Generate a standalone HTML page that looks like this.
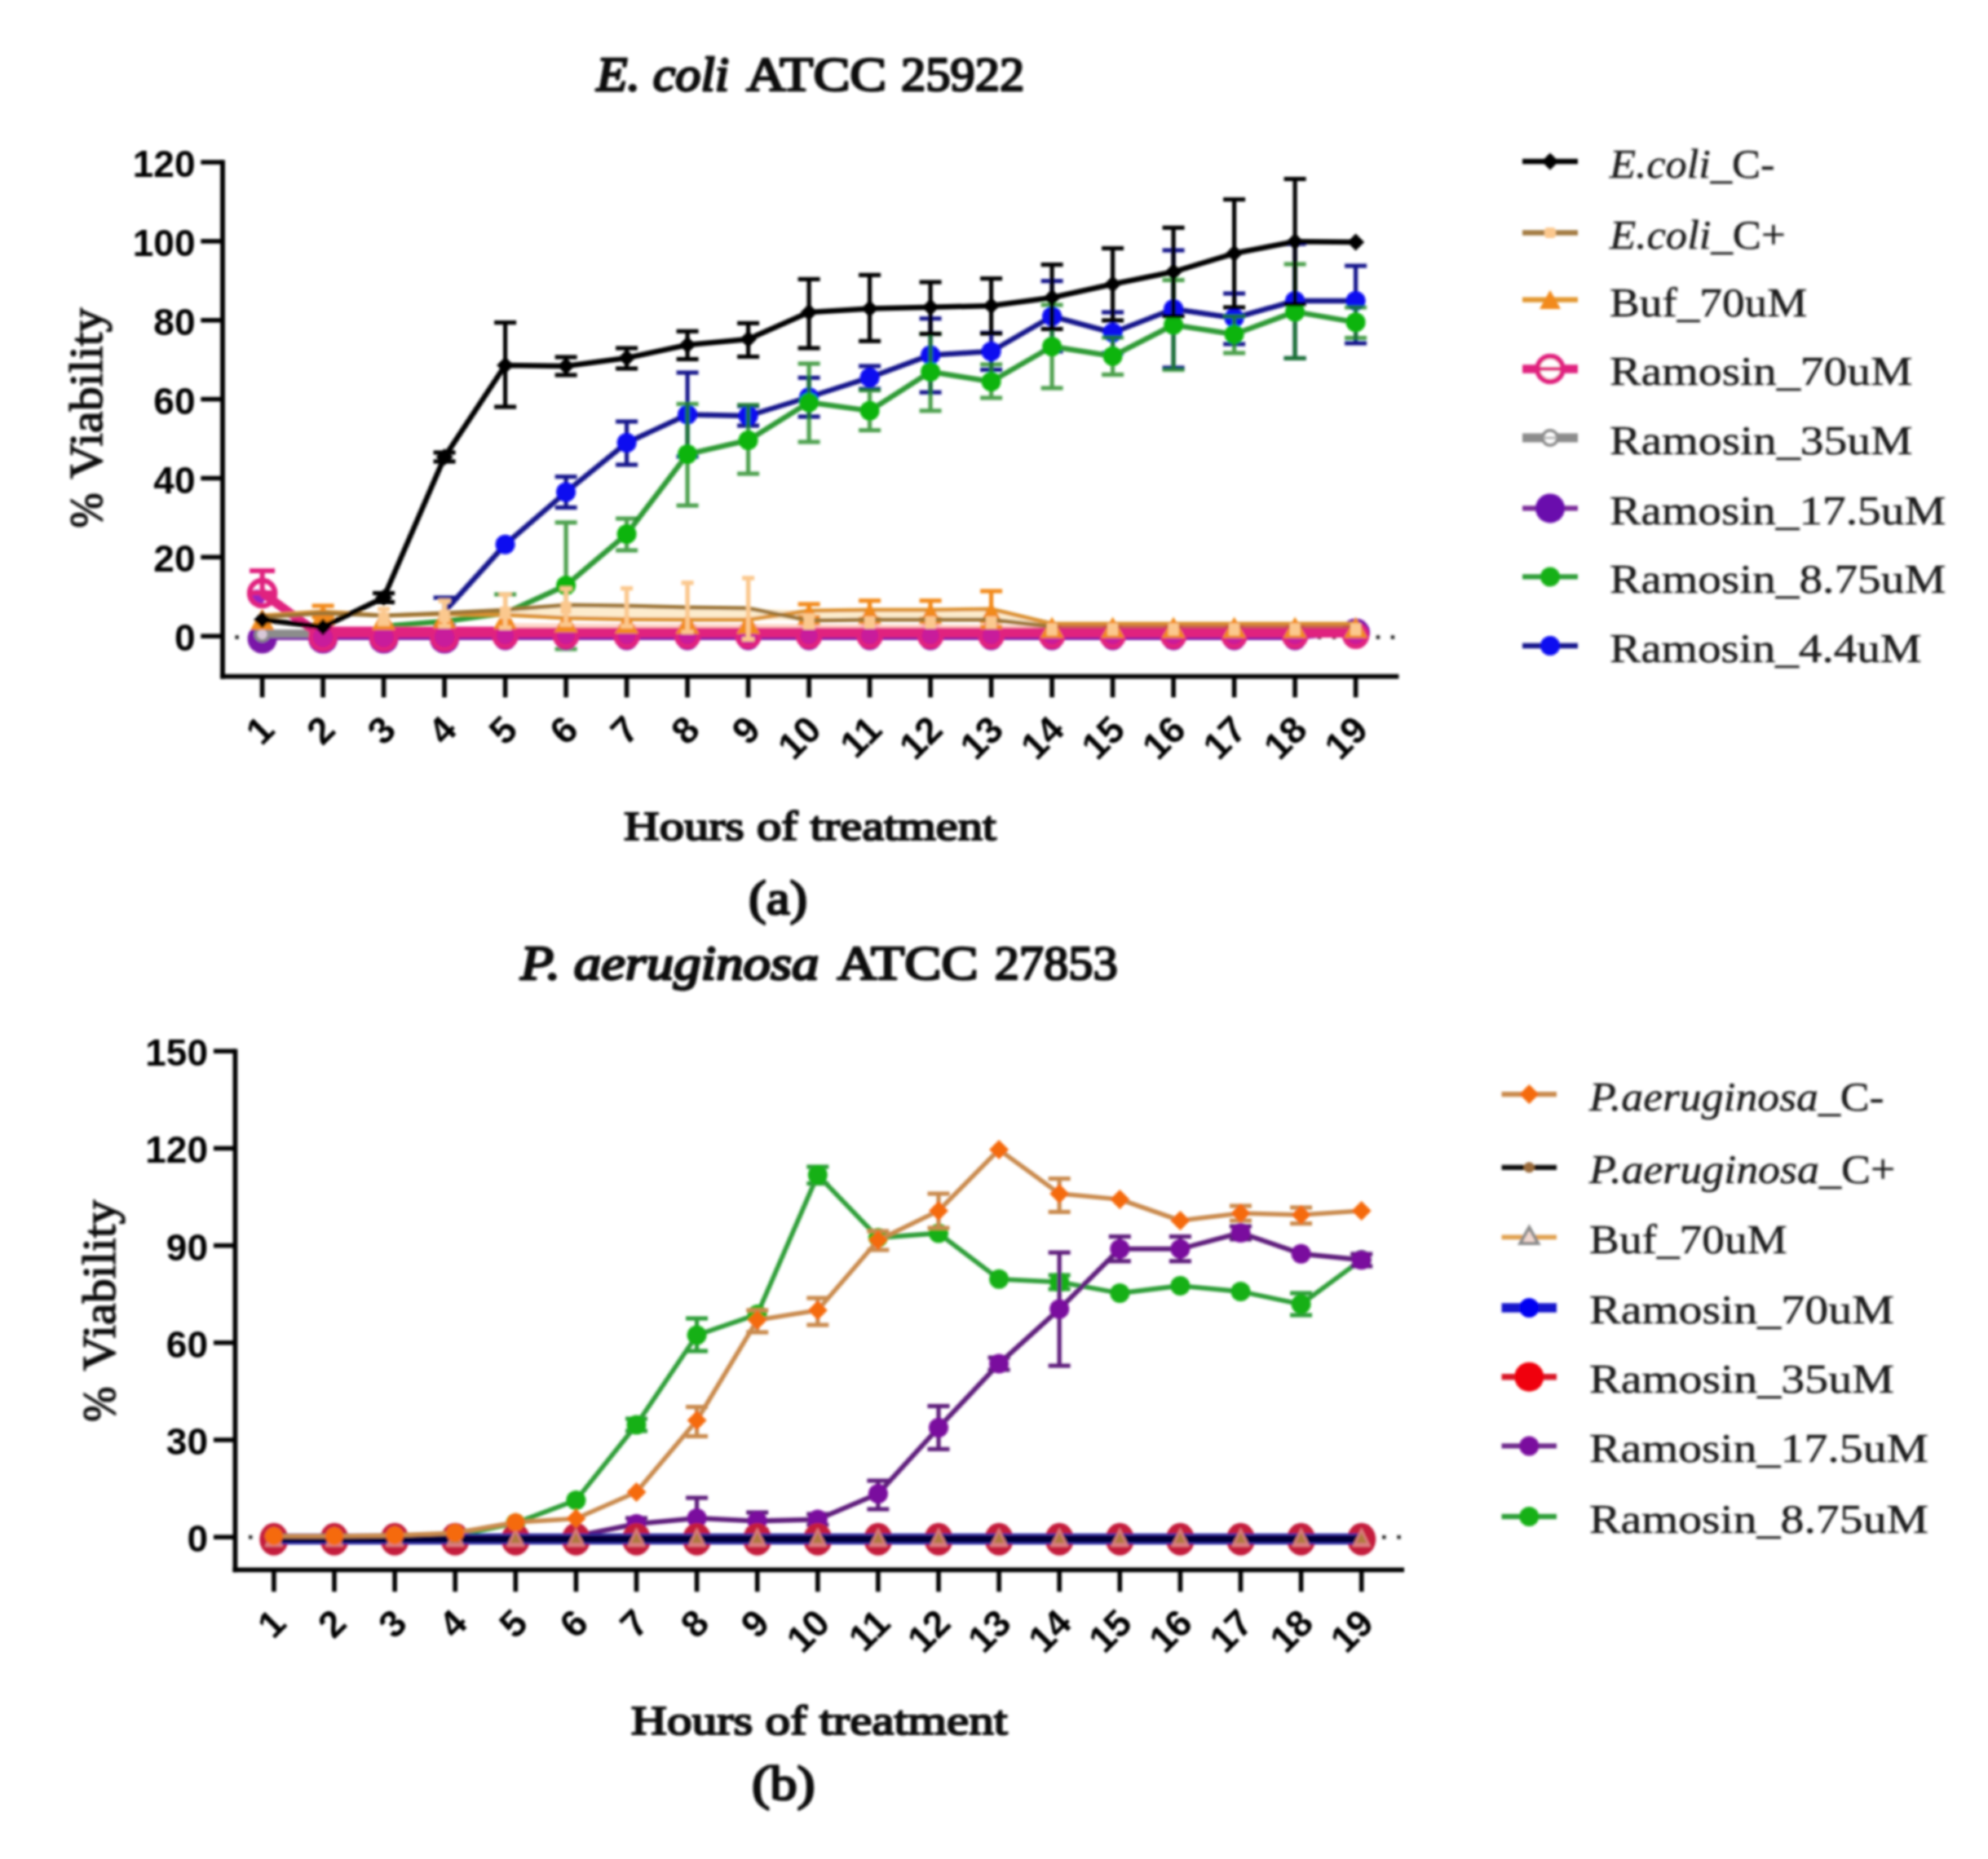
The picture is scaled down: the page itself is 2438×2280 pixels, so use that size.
<!DOCTYPE html>
<html lang="en"><head><meta charset="utf-8"><title>Ramosin viability figure</title>
<style>html,body{margin:0;padding:0;background:#fff}body{width:2438px;height:2280px;overflow:hidden}svg{display:block}</style>
</head><body>
<svg width="2438" height="2280" viewBox="0 0 2438 2280" role="img" aria-label="Viability curves of E. coli and P. aeruginosa treated with Ramosin">
<defs><filter id="soft" x="-2%" y="-2%" width="104%" height="104%"><feGaussianBlur stdDeviation="1.4"/></filter></defs>
<rect width="2438" height="2280" fill="#fff"/>
<g filter="url(#soft)">
<g id="chart-a">
<line x1="288.4" y1="781.6" x2="1711" y2="781.6" stroke="#222" stroke-width="4.5" stroke-dasharray="4.5 13.44"/>
<polyline points="545.1,750.0 619.6,667.7 694.1,603.6 768.6,543.0 843.1,508.5 917.6,510.0 992.1,487.0 1066.6,463.0 1141.1,435.4 1215.6,431.0 1290.1,388.0 1364.6,408.0 1439.1,379.0 1513.6,390.0 1588.1,369.0 1662.6,369.0" fill="none" stroke="#15158c" stroke-width="6.5" stroke-linejoin="round" />
<g stroke="#15158c" stroke-width="5.2" opacity="1"><line x1="545.1" y1="733.0" x2="545.1" y2="767.0"/><line x1="531.6" y1="733.0" x2="558.6" y2="733.0"/><line x1="531.6" y1="767.0" x2="558.6" y2="767.0"/></g>
<g stroke="#15158c" stroke-width="5.2" opacity="1"><line x1="694.1" y1="584.7" x2="694.1" y2="622.5"/><line x1="680.6" y1="584.7" x2="707.6" y2="584.7"/><line x1="680.6" y1="622.5" x2="707.6" y2="622.5"/></g>
<g stroke="#15158c" stroke-width="5.2" opacity="1"><line x1="768.6" y1="517.0" x2="768.6" y2="570.0"/><line x1="755.1" y1="517.0" x2="782.1" y2="517.0"/><line x1="755.1" y1="570.0" x2="782.1" y2="570.0"/></g>
<g stroke="#15158c" stroke-width="5.2" opacity="1"><line x1="843.1" y1="457.0" x2="843.1" y2="560.0"/><line x1="829.6" y1="457.0" x2="856.6" y2="457.0"/><line x1="829.6" y1="560.0" x2="856.6" y2="560.0"/></g>
<g stroke="#15158c" stroke-width="5.2" opacity="1"><line x1="917.6" y1="498.0" x2="917.6" y2="522.0"/><line x1="904.1" y1="498.0" x2="931.1" y2="498.0"/><line x1="904.1" y1="522.0" x2="931.1" y2="522.0"/></g>
<g stroke="#15158c" stroke-width="5.2" opacity="1"><line x1="992.1" y1="463.3" x2="992.1" y2="511.0"/><line x1="978.6" y1="463.3" x2="1005.6" y2="463.3"/><line x1="978.6" y1="511.0" x2="1005.6" y2="511.0"/></g>
<g stroke="#15158c" stroke-width="5.2" opacity="1"><line x1="1066.6" y1="449.0" x2="1066.6" y2="477.0"/><line x1="1053.1" y1="449.0" x2="1080.1" y2="449.0"/><line x1="1053.1" y1="477.0" x2="1080.1" y2="477.0"/></g>
<g stroke="#15158c" stroke-width="5.2" opacity="1"><line x1="1141.1" y1="390.7" x2="1141.1" y2="481.2"/><line x1="1127.6" y1="390.7" x2="1154.6" y2="390.7"/><line x1="1127.6" y1="481.2" x2="1154.6" y2="481.2"/></g>
<g stroke="#15158c" stroke-width="5.2" opacity="1"><line x1="1215.6" y1="408.3" x2="1215.6" y2="453.5"/><line x1="1202.1" y1="408.3" x2="1229.1" y2="408.3"/><line x1="1202.1" y1="453.5" x2="1229.1" y2="453.5"/></g>
<g stroke="#15158c" stroke-width="5.2" opacity="1"><line x1="1290.1" y1="344.7" x2="1290.1" y2="431.0"/><line x1="1276.6" y1="344.7" x2="1303.6" y2="344.7"/><line x1="1276.6" y1="431.0" x2="1303.6" y2="431.0"/></g>
<g stroke="#15158c" stroke-width="5.2" opacity="1"><line x1="1364.6" y1="383.0" x2="1364.6" y2="433.0"/><line x1="1351.1" y1="383.0" x2="1378.1" y2="383.0"/><line x1="1351.1" y1="433.0" x2="1378.1" y2="433.0"/></g>
<g stroke="#15158c" stroke-width="5.2" opacity="1"><line x1="1439.1" y1="307.0" x2="1439.1" y2="451.0"/><line x1="1425.6" y1="307.0" x2="1452.6" y2="307.0"/><line x1="1425.6" y1="451.0" x2="1452.6" y2="451.0"/></g>
<g stroke="#15158c" stroke-width="5.2" opacity="1"><line x1="1513.6" y1="360.0" x2="1513.6" y2="422.0"/><line x1="1500.1" y1="360.0" x2="1527.1" y2="360.0"/><line x1="1500.1" y1="422.0" x2="1527.1" y2="422.0"/></g>
<g stroke="#15158c" stroke-width="5.2" opacity="1"><line x1="1588.1" y1="299.0" x2="1588.1" y2="439.4"/><line x1="1574.6" y1="299.0" x2="1601.6" y2="299.0"/><line x1="1574.6" y1="439.4" x2="1601.6" y2="439.4"/></g>
<g stroke="#15158c" stroke-width="5.2" opacity="1"><line x1="1662.6" y1="326.0" x2="1662.6" y2="421.0"/><line x1="1649.1" y1="326.0" x2="1676.1" y2="326.0"/><line x1="1649.1" y1="421.0" x2="1676.1" y2="421.0"/></g>
<circle cx="619.6" cy="667.7" r="12" fill="#0808f0" stroke="none" stroke-width="0" />
<circle cx="694.1" cy="603.6" r="12" fill="#0808f0" stroke="none" stroke-width="0" />
<circle cx="768.6" cy="543.0" r="12" fill="#0808f0" stroke="none" stroke-width="0" />
<circle cx="843.1" cy="508.5" r="12" fill="#0808f0" stroke="none" stroke-width="0" />
<circle cx="917.6" cy="510.0" r="12" fill="#0808f0" stroke="none" stroke-width="0" />
<circle cx="992.1" cy="487.0" r="12" fill="#0808f0" stroke="none" stroke-width="0" />
<circle cx="1066.6" cy="463.0" r="12" fill="#0808f0" stroke="none" stroke-width="0" />
<circle cx="1141.1" cy="435.4" r="12" fill="#0808f0" stroke="none" stroke-width="0" />
<circle cx="1215.6" cy="431.0" r="12" fill="#0808f0" stroke="none" stroke-width="0" />
<circle cx="1290.1" cy="388.0" r="12" fill="#0808f0" stroke="none" stroke-width="0" />
<circle cx="1364.6" cy="408.0" r="12" fill="#0808f0" stroke="none" stroke-width="0" />
<circle cx="1439.1" cy="379.0" r="12" fill="#0808f0" stroke="none" stroke-width="0" />
<circle cx="1513.6" cy="390.0" r="12" fill="#0808f0" stroke="none" stroke-width="0" />
<circle cx="1588.1" cy="369.0" r="12" fill="#0808f0" stroke="none" stroke-width="0" />
<circle cx="1662.6" cy="369.0" r="12" fill="#0808f0" stroke="none" stroke-width="0" />
<polyline points="470.6,768.0 545.1,762.0 619.6,752.0 694.1,718.0 768.6,655.0 843.1,557.0 917.6,540.0 992.1,493.5 1066.6,503.8 1141.1,456.0 1215.6,468.0 1290.1,425.0 1364.6,436.7 1439.1,398.5 1513.6,410.0 1588.1,382.4 1662.6,395.2" fill="none" stroke="#2e9a34" stroke-width="6.5" stroke-linejoin="round" />
<g stroke="#1e8a24" stroke-width="5.2" opacity="0.8"><line x1="619.6" y1="729.0" x2="619.6" y2="775.0"/><line x1="606.1" y1="729.0" x2="633.1" y2="729.0"/><line x1="606.1" y1="775.0" x2="633.1" y2="775.0"/></g>
<g stroke="#1e8a24" stroke-width="5.2" opacity="0.8"><line x1="694.1" y1="640.8" x2="694.1" y2="796.0"/><line x1="680.6" y1="640.8" x2="707.6" y2="640.8"/><line x1="680.6" y1="796.0" x2="707.6" y2="796.0"/></g>
<g stroke="#1e8a24" stroke-width="5.2" opacity="0.8"><line x1="768.6" y1="636.0" x2="768.6" y2="675.0"/><line x1="755.1" y1="636.0" x2="782.1" y2="636.0"/><line x1="755.1" y1="675.0" x2="782.1" y2="675.0"/></g>
<g stroke="#1e8a24" stroke-width="5.2" opacity="0.8"><line x1="843.1" y1="495.5" x2="843.1" y2="620.0"/><line x1="829.6" y1="495.5" x2="856.6" y2="495.5"/><line x1="829.6" y1="620.0" x2="856.6" y2="620.0"/></g>
<g stroke="#1e8a24" stroke-width="5.2" opacity="0.8"><line x1="917.6" y1="496.7" x2="917.6" y2="581.0"/><line x1="904.1" y1="496.7" x2="931.1" y2="496.7"/><line x1="904.1" y1="581.0" x2="931.1" y2="581.0"/></g>
<g stroke="#1e8a24" stroke-width="5.2" opacity="0.8"><line x1="992.1" y1="446.0" x2="992.1" y2="542.0"/><line x1="978.6" y1="446.0" x2="1005.6" y2="446.0"/><line x1="978.6" y1="542.0" x2="1005.6" y2="542.0"/></g>
<g stroke="#1e8a24" stroke-width="5.2" opacity="0.8"><line x1="1066.6" y1="478.7" x2="1066.6" y2="527.7"/><line x1="1053.1" y1="478.7" x2="1080.1" y2="478.7"/><line x1="1053.1" y1="527.7" x2="1080.1" y2="527.7"/></g>
<g stroke="#1e8a24" stroke-width="5.2" opacity="0.8"><line x1="1141.1" y1="409.5" x2="1141.1" y2="503.8"/><line x1="1127.6" y1="409.5" x2="1154.6" y2="409.5"/><line x1="1127.6" y1="503.8" x2="1154.6" y2="503.8"/></g>
<g stroke="#1e8a24" stroke-width="5.2" opacity="0.8"><line x1="1215.6" y1="447.0" x2="1215.6" y2="488.0"/><line x1="1202.1" y1="447.0" x2="1229.1" y2="447.0"/><line x1="1202.1" y1="488.0" x2="1229.1" y2="488.0"/></g>
<g stroke="#1e8a24" stroke-width="5.2" opacity="0.8"><line x1="1290.1" y1="374.0" x2="1290.1" y2="476.0"/><line x1="1276.6" y1="374.0" x2="1303.6" y2="374.0"/><line x1="1276.6" y1="476.0" x2="1303.6" y2="476.0"/></g>
<g stroke="#1e8a24" stroke-width="5.2" opacity="0.8"><line x1="1364.6" y1="414.0" x2="1364.6" y2="459.5"/><line x1="1351.1" y1="414.0" x2="1378.1" y2="414.0"/><line x1="1351.1" y1="459.5" x2="1378.1" y2="459.5"/></g>
<g stroke="#1e8a24" stroke-width="5.2" opacity="0.8"><line x1="1439.1" y1="343.5" x2="1439.1" y2="453.5"/><line x1="1425.6" y1="343.5" x2="1452.6" y2="343.5"/><line x1="1425.6" y1="453.5" x2="1452.6" y2="453.5"/></g>
<g stroke="#1e8a24" stroke-width="5.2" opacity="0.8"><line x1="1513.6" y1="388.0" x2="1513.6" y2="433.0"/><line x1="1500.1" y1="388.0" x2="1527.1" y2="388.0"/><line x1="1500.1" y1="433.0" x2="1527.1" y2="433.0"/></g>
<g stroke="#1e8a24" stroke-width="5.2" opacity="0.8"><line x1="1588.1" y1="324.0" x2="1588.1" y2="439.4"/><line x1="1574.6" y1="324.0" x2="1601.6" y2="324.0"/><line x1="1574.6" y1="439.4" x2="1601.6" y2="439.4"/></g>
<g stroke="#1e8a24" stroke-width="5.2" opacity="0.8"><line x1="1662.6" y1="377.0" x2="1662.6" y2="414.5"/><line x1="1649.1" y1="377.0" x2="1676.1" y2="377.0"/><line x1="1649.1" y1="414.5" x2="1676.1" y2="414.5"/></g>
<circle cx="694.1" cy="718.0" r="12" fill="#10b410" stroke="none" stroke-width="0" />
<circle cx="768.6" cy="655.0" r="12" fill="#10b410" stroke="none" stroke-width="0" />
<circle cx="843.1" cy="557.0" r="12" fill="#10b410" stroke="none" stroke-width="0" />
<circle cx="917.6" cy="540.0" r="12" fill="#10b410" stroke="none" stroke-width="0" />
<circle cx="992.1" cy="493.5" r="12" fill="#10b410" stroke="none" stroke-width="0" />
<circle cx="1066.6" cy="503.8" r="12" fill="#10b410" stroke="none" stroke-width="0" />
<circle cx="1141.1" cy="456.0" r="12" fill="#10b410" stroke="none" stroke-width="0" />
<circle cx="1215.6" cy="468.0" r="12" fill="#10b410" stroke="none" stroke-width="0" />
<circle cx="1290.1" cy="425.0" r="12" fill="#10b410" stroke="none" stroke-width="0" />
<circle cx="1364.6" cy="436.7" r="12" fill="#10b410" stroke="none" stroke-width="0" />
<circle cx="1439.1" cy="398.5" r="12" fill="#10b410" stroke="none" stroke-width="0" />
<circle cx="1513.6" cy="410.0" r="12" fill="#10b410" stroke="none" stroke-width="0" />
<circle cx="1588.1" cy="382.4" r="12" fill="#10b410" stroke="none" stroke-width="0" />
<circle cx="1662.6" cy="395.2" r="12" fill="#10b410" stroke="none" stroke-width="0" />
<polyline points="321.6,783.0 396.1,783.0 470.6,783.0 545.1,783.0 619.6,783.0 694.1,783.0 768.6,783.0 843.1,783.0 917.6,783.0 992.1,783.0 1066.6,783.0 1141.1,783.0 1215.6,783.0 1290.1,783.0 1364.6,783.0 1439.1,783.0 1513.6,783.0 1588.1,783.0 1662.6,776.0" fill="none" stroke="#7a14a8" stroke-width="4" stroke-linejoin="round" />
<circle cx="321.6" cy="783.5" r="18" fill="#7a14a8" stroke="none" stroke-width="0" />
<circle cx="396.1" cy="783.5" r="18" fill="#7a14a8" stroke="none" stroke-width="0" />
<circle cx="470.6" cy="783.5" r="18" fill="#7a14a8" stroke="none" stroke-width="0" />
<circle cx="545.1" cy="783.5" r="18" fill="#7a14a8" stroke="none" stroke-width="0" />
<circle cx="619.6" cy="783.5" r="14" fill="#7a14a8" stroke="none" stroke-width="0" />
<circle cx="694.1" cy="783.5" r="14" fill="#7a14a8" stroke="none" stroke-width="0" />
<circle cx="768.6" cy="783.5" r="14" fill="#7a14a8" stroke="none" stroke-width="0" />
<circle cx="843.1" cy="783.5" r="14" fill="#7a14a8" stroke="none" stroke-width="0" />
<circle cx="917.6" cy="783.5" r="14" fill="#7a14a8" stroke="none" stroke-width="0" />
<circle cx="992.1" cy="783.5" r="14" fill="#7a14a8" stroke="none" stroke-width="0" />
<circle cx="1066.6" cy="783.5" r="14" fill="#7a14a8" stroke="none" stroke-width="0" />
<circle cx="1141.1" cy="783.5" r="14" fill="#7a14a8" stroke="none" stroke-width="0" />
<circle cx="1215.6" cy="783.5" r="14" fill="#7a14a8" stroke="none" stroke-width="0" />
<circle cx="1290.1" cy="783.5" r="14" fill="#7a14a8" stroke="none" stroke-width="0" />
<circle cx="1364.6" cy="783.5" r="14" fill="#7a14a8" stroke="none" stroke-width="0" />
<circle cx="1439.1" cy="783.5" r="14" fill="#7a14a8" stroke="none" stroke-width="0" />
<circle cx="1513.6" cy="783.5" r="14" fill="#7a14a8" stroke="none" stroke-width="0" />
<circle cx="1588.1" cy="783.5" r="14" fill="#7a14a8" stroke="none" stroke-width="0" />
<circle cx="1662.6" cy="776.0" r="17.5" fill="#7a14a8" stroke="none" stroke-width="0" />
<circle cx="315.0" cy="733.0" r="10" fill="#9a22c0" stroke="none" stroke-width="0" />
<polyline points="321.6,777.0 396.1,777.0 470.6,777.0 545.1,777.0 619.6,777.0 694.1,777.0 768.6,777.0 843.1,777.0 917.6,777.0 992.1,777.0 1066.6,777.0 1141.1,777.0 1215.6,777.0 1290.1,777.0 1364.6,777.0 1439.1,777.0 1513.6,777.0 1588.1,777.0 1662.6,777.0" fill="none" stroke="#8c8c8c" stroke-width="10" stroke-linejoin="round" />
<circle cx="321.6" cy="778.0" r="8" fill="#d8c8d8" stroke="#8c8c8c" stroke-width="4" />
<g stroke="#e0207f" stroke-width="6" opacity="1"><line x1="321.6" y1="700.0" x2="321.6" y2="727.0"/><line x1="306.1" y1="700.0" x2="337.1" y2="700.0"/><line x1="306.1" y1="727.0" x2="337.1" y2="727.0"/></g>
<polyline points="321.6,727.0 388.1,775.5" fill="none" stroke="#e0207f" stroke-width="11" stroke-linejoin="round" />
<polyline points="382.1,775.3 1662.6,775.3" fill="none" stroke="#e0207f" stroke-width="13.5" stroke-linejoin="round" />
<circle cx="321.6" cy="727.5" r="15.5" fill="none" stroke="#e0207f" stroke-width="6.5" />
<circle cx="396.1" cy="781.5" r="15" fill="#c81f9c" stroke="#e0207f" stroke-width="6" />
<circle cx="470.6" cy="781.5" r="15" fill="#c81f9c" stroke="#e0207f" stroke-width="6" />
<circle cx="545.1" cy="781.5" r="15" fill="#c81f9c" stroke="#e0207f" stroke-width="6" />
<circle cx="619.6" cy="779.5" r="13.5" fill="#c81f9c" stroke="#e0207f" stroke-width="6" />
<circle cx="694.1" cy="779.5" r="13.5" fill="#c81f9c" stroke="#e0207f" stroke-width="6" />
<circle cx="768.6" cy="779.5" r="13.5" fill="#c81f9c" stroke="#e0207f" stroke-width="6" />
<circle cx="843.1" cy="779.5" r="13.5" fill="#c81f9c" stroke="#e0207f" stroke-width="6" />
<circle cx="917.6" cy="779.5" r="13.5" fill="#c81f9c" stroke="#e0207f" stroke-width="6" />
<circle cx="992.1" cy="779.5" r="13.5" fill="#c81f9c" stroke="#e0207f" stroke-width="6" />
<circle cx="1066.6" cy="779.5" r="13.5" fill="#c81f9c" stroke="#e0207f" stroke-width="6" />
<circle cx="1141.1" cy="779.5" r="13.5" fill="#c81f9c" stroke="#e0207f" stroke-width="6" />
<circle cx="1215.6" cy="779.5" r="13.5" fill="#c81f9c" stroke="#e0207f" stroke-width="6" />
<circle cx="1290.1" cy="779.5" r="13.5" fill="#c81f9c" stroke="#e0207f" stroke-width="6" />
<circle cx="1364.6" cy="779.5" r="13.5" fill="#c81f9c" stroke="#e0207f" stroke-width="6" />
<circle cx="1439.1" cy="779.5" r="13.5" fill="#c81f9c" stroke="#e0207f" stroke-width="6" />
<circle cx="1513.6" cy="779.5" r="13.5" fill="#c81f9c" stroke="#e0207f" stroke-width="6" />
<circle cx="1588.1" cy="779.5" r="13.5" fill="#c81f9c" stroke="#e0207f" stroke-width="6" />
<circle cx="1662.6" cy="779.5" r="13.5" fill="#c81f9c" stroke="#e0207f" stroke-width="6" />
<polygon points="619.6,748.0 694.1,742.0 768.6,743.0 843.1,745.0 917.6,746.0 992.1,749.0 1066.6,748.0 1141.1,748.0 1215.6,747.0 1290.1,765.0 1290.1,768.5 1215.6,760.0 1141.1,760.0 1066.6,760.0 992.1,761.0 917.6,760.0 843.1,760.0 768.6,759.5 694.1,758.0 619.6,754.0" fill="#fdeccd"/>
<polygon points="619.6,764 1290.1,766 1290.1,770 619.6,770" fill="#ffd2c0" opacity="0.8"/>
<polyline points="321.6,755.0 396.1,750.0 470.6,755.0 545.1,753.0 619.6,754.0 694.1,758.0 768.6,759.5 843.1,760.0 917.6,760.0 992.1,749.0 1066.6,748.0 1141.1,748.0 1215.6,747.0 1290.1,765.0 1364.6,765.0 1439.1,765.0 1513.6,765.0 1588.1,765.0 1662.6,765.0" fill="none" stroke="#dc9232" stroke-width="5" stroke-linejoin="round" />
<g stroke="#f28a1a" stroke-width="5.2" opacity="1"><line x1="396.1" y1="743.0" x2="396.1" y2="757.0"/><line x1="382.6" y1="743.0" x2="409.6" y2="743.0"/><line x1="382.6" y1="757.0" x2="409.6" y2="757.0"/></g>
<g stroke="#f28a1a" stroke-width="5.2" opacity="1"><line x1="992.1" y1="741.0" x2="992.1" y2="757.0"/><line x1="978.6" y1="741.0" x2="1005.6" y2="741.0"/><line x1="978.6" y1="757.0" x2="1005.6" y2="757.0"/></g>
<g stroke="#f28a1a" stroke-width="5.2" opacity="1"><line x1="1066.6" y1="736.7" x2="1066.6" y2="759.0"/><line x1="1053.1" y1="736.7" x2="1080.1" y2="736.7"/><line x1="1053.1" y1="759.0" x2="1080.1" y2="759.0"/></g>
<g stroke="#f28a1a" stroke-width="5.2" opacity="1"><line x1="1141.1" y1="736.7" x2="1141.1" y2="759.0"/><line x1="1127.6" y1="736.7" x2="1154.6" y2="736.7"/><line x1="1127.6" y1="759.0" x2="1154.6" y2="759.0"/></g>
<g stroke="#f28a1a" stroke-width="5.2" opacity="1"><line x1="1215.6" y1="725.0" x2="1215.6" y2="769.0"/><line x1="1202.1" y1="725.0" x2="1229.1" y2="725.0"/><line x1="1202.1" y1="769.0" x2="1229.1" y2="769.0"/></g>
<polygon points="321.6,746.5 336.1,772.6 307.1,772.6" fill="#f28a1a" stroke="none" stroke-width="0" stroke-linejoin="miter"/>
<polygon points="396.1,741.5 410.6,767.6 381.6,767.6" fill="#f28a1a" stroke="none" stroke-width="0" stroke-linejoin="miter"/>
<polygon points="470.6,746.5 485.1,772.6 456.1,772.6" fill="#f28a1a" stroke="none" stroke-width="0" stroke-linejoin="miter"/>
<polygon points="545.1,744.5 559.6,770.6 530.6,770.6" fill="#f28a1a" stroke="none" stroke-width="0" stroke-linejoin="miter"/>
<polygon points="619.6,745.5 634.1,771.6 605.1,771.6" fill="#f28a1a" stroke="none" stroke-width="0" stroke-linejoin="miter"/>
<polygon points="694.1,749.5 708.6,775.6 679.6,775.6" fill="#f28a1a" stroke="none" stroke-width="0" stroke-linejoin="miter"/>
<polygon points="768.6,751.0 783.1,777.1 754.1,777.1" fill="#f28a1a" stroke="none" stroke-width="0" stroke-linejoin="miter"/>
<polygon points="843.1,751.5 857.6,777.6 828.6,777.6" fill="#f28a1a" stroke="none" stroke-width="0" stroke-linejoin="miter"/>
<polygon points="917.6,751.5 932.1,777.6 903.1,777.6" fill="#f28a1a" stroke="none" stroke-width="0" stroke-linejoin="miter"/>
<polygon points="992.1,740.5 1006.6,766.6 977.6,766.6" fill="#f28a1a" stroke="none" stroke-width="0" stroke-linejoin="miter"/>
<polygon points="1066.6,739.5 1081.1,765.6 1052.1,765.6" fill="#f28a1a" stroke="none" stroke-width="0" stroke-linejoin="miter"/>
<polygon points="1141.1,739.5 1155.6,765.6 1126.6,765.6" fill="#f28a1a" stroke="none" stroke-width="0" stroke-linejoin="miter"/>
<polygon points="1215.6,738.5 1230.1,764.6 1201.1,764.6" fill="#f28a1a" stroke="none" stroke-width="0" stroke-linejoin="miter"/>
<polygon points="1290.1,756.5 1304.6,782.6 1275.6,782.6" fill="#f28a1a" stroke="none" stroke-width="0" stroke-linejoin="miter"/>
<polygon points="1364.6,756.5 1379.1,782.6 1350.1,782.6" fill="#f28a1a" stroke="none" stroke-width="0" stroke-linejoin="miter"/>
<polygon points="1439.1,756.5 1453.6,782.6 1424.6,782.6" fill="#f28a1a" stroke="none" stroke-width="0" stroke-linejoin="miter"/>
<polygon points="1513.6,756.5 1528.1,782.6 1499.1,782.6" fill="#f28a1a" stroke="none" stroke-width="0" stroke-linejoin="miter"/>
<polygon points="1588.1,756.5 1602.6,782.6 1573.6,782.6" fill="#f28a1a" stroke="none" stroke-width="0" stroke-linejoin="miter"/>
<polygon points="1662.6,756.5 1677.1,782.6 1648.1,782.6" fill="#f28a1a" stroke="none" stroke-width="0" stroke-linejoin="miter"/>
<polyline points="321.6,757.0 396.1,752.0 470.6,755.0 545.1,752.0 619.6,748.0 694.1,742.0 768.6,743.0 843.1,745.0 917.6,746.0 992.1,761.0 1066.6,760.0 1141.1,760.0 1215.6,760.0 1290.1,768.5" fill="none" stroke="#9c7434" stroke-width="5" stroke-linejoin="round" />
<polyline points="1290.1,768.5 1364.6,768.5 1439.1,768.5 1513.6,768.5 1588.1,768.5 1662.6,768.5" fill="none" stroke="#c2603c" stroke-width="4.5" stroke-linejoin="round" opacity="0.8"/>
<g stroke="#fbc88e" stroke-width="5.5" opacity="1"><line x1="470.6" y1="747.0" x2="470.6" y2="765.0"/><line x1="463.1" y1="747.0" x2="478.1" y2="747.0"/><line x1="463.1" y1="765.0" x2="478.1" y2="765.0"/></g>
<g stroke="#fbc88e" stroke-width="5.5" opacity="1"><line x1="545.1" y1="737.0" x2="545.1" y2="768.0"/><line x1="537.6" y1="737.0" x2="552.6" y2="737.0"/><line x1="537.6" y1="768.0" x2="552.6" y2="768.0"/></g>
<g stroke="#fbc88e" stroke-width="5.5" opacity="1"><line x1="619.6" y1="729.0" x2="619.6" y2="770.0"/><line x1="612.1" y1="729.0" x2="627.1" y2="729.0"/><line x1="612.1" y1="770.0" x2="627.1" y2="770.0"/></g>
<g stroke="#fbc88e" stroke-width="5.5" opacity="1"><line x1="694.1" y1="722.0" x2="694.1" y2="766.0"/><line x1="686.6" y1="722.0" x2="701.6" y2="722.0"/><line x1="686.6" y1="766.0" x2="701.6" y2="766.0"/></g>
<g stroke="#fbc88e" stroke-width="5.5" opacity="1"><line x1="768.6" y1="721.6" x2="768.6" y2="768.0"/><line x1="761.1" y1="721.6" x2="776.1" y2="721.6"/><line x1="761.1" y1="768.0" x2="776.1" y2="768.0"/></g>
<g stroke="#fbc88e" stroke-width="5.5" opacity="1"><line x1="843.1" y1="714.8" x2="843.1" y2="775.0"/><line x1="835.6" y1="714.8" x2="850.6" y2="714.8"/><line x1="835.6" y1="775.0" x2="850.6" y2="775.0"/></g>
<g stroke="#fbc88e" stroke-width="5.5" opacity="1"><line x1="917.6" y1="709.0" x2="917.6" y2="784.0"/><line x1="910.1" y1="709.0" x2="925.1" y2="709.0"/><line x1="910.1" y1="784.0" x2="925.1" y2="784.0"/></g>
<g stroke="#fbc88e" stroke-width="5.5" opacity="1"><line x1="992.1" y1="755.0" x2="992.1" y2="769.0"/><line x1="984.6" y1="755.0" x2="999.6" y2="755.0"/><line x1="984.6" y1="769.0" x2="999.6" y2="769.0"/></g>
<rect x="464.1" y="751.0" width="13" height="15" fill="#fbc88e"/>
<rect x="538.6" y="748.0" width="13" height="15" fill="#fbc88e"/>
<rect x="613.1" y="744.0" width="13" height="15" fill="#fbc88e"/>
<rect x="687.6" y="738.0" width="13" height="15" fill="#fbc88e"/>
<rect x="985.6" y="757.0" width="13" height="15" fill="#fbc88e"/>
<rect x="1060.1" y="756.0" width="13" height="15" fill="#fbc88e"/>
<rect x="1134.6" y="756.0" width="13" height="15" fill="#fbc88e"/>
<rect x="1209.1" y="756.0" width="13" height="15" fill="#fbc88e"/>
<rect x="1283.6" y="764.5" width="13" height="15" fill="#fbc88e"/>
<rect x="1358.1" y="764.5" width="13" height="15" fill="#fbc88e"/>
<rect x="1432.6" y="764.5" width="13" height="15" fill="#fbc88e"/>
<rect x="1507.1" y="764.5" width="13" height="15" fill="#fbc88e"/>
<rect x="1581.6" y="764.5" width="13" height="15" fill="#fbc88e"/>
<rect x="1656.1" y="764.5" width="13" height="15" fill="#fbc88e"/>
<polyline points="321.6,760.0 396.1,769.0 470.6,733.0 545.1,560.6 619.6,448.0 694.1,449.0 768.6,439.0 843.1,423.0 917.6,416.0 992.1,383.0 1066.6,378.6 1141.1,376.8 1215.6,375.0 1290.1,365.0 1364.6,348.5 1439.1,333.4 1513.6,310.8 1588.1,296.2 1662.6,297.0" fill="none" stroke="#000" stroke-width="6.5" stroke-linejoin="round" />
<g stroke="#000" stroke-width="5.2" opacity="1"><line x1="470.6" y1="727.5" x2="470.6" y2="738.5"/><line x1="457.1" y1="727.5" x2="484.1" y2="727.5"/><line x1="457.1" y1="738.5" x2="484.1" y2="738.5"/></g>
<g stroke="#000" stroke-width="5.2" opacity="1"><line x1="545.1" y1="555.0" x2="545.1" y2="566.0"/><line x1="531.6" y1="555.0" x2="558.6" y2="555.0"/><line x1="531.6" y1="566.0" x2="558.6" y2="566.0"/></g>
<g stroke="#000" stroke-width="5.2" opacity="1"><line x1="619.6" y1="395.6" x2="619.6" y2="499.0"/><line x1="606.1" y1="395.6" x2="633.1" y2="395.6"/><line x1="606.1" y1="499.0" x2="633.1" y2="499.0"/></g>
<g stroke="#000" stroke-width="5.2" opacity="1"><line x1="694.1" y1="438.0" x2="694.1" y2="460.0"/><line x1="680.6" y1="438.0" x2="707.6" y2="438.0"/><line x1="680.6" y1="460.0" x2="707.6" y2="460.0"/></g>
<g stroke="#000" stroke-width="5.2" opacity="1"><line x1="768.6" y1="427.0" x2="768.6" y2="452.0"/><line x1="755.1" y1="427.0" x2="782.1" y2="427.0"/><line x1="755.1" y1="452.0" x2="782.1" y2="452.0"/></g>
<g stroke="#000" stroke-width="5.2" opacity="1"><line x1="843.1" y1="406.3" x2="843.1" y2="440.5"/><line x1="829.6" y1="406.3" x2="856.6" y2="406.3"/><line x1="829.6" y1="440.5" x2="856.6" y2="440.5"/></g>
<g stroke="#000" stroke-width="5.2" opacity="1"><line x1="917.6" y1="396.4" x2="917.6" y2="437.5"/><line x1="904.1" y1="396.4" x2="931.1" y2="396.4"/><line x1="904.1" y1="437.5" x2="931.1" y2="437.5"/></g>
<g stroke="#000" stroke-width="5.2" opacity="1"><line x1="992.1" y1="342.4" x2="992.1" y2="427.0"/><line x1="978.6" y1="342.4" x2="1005.6" y2="342.4"/><line x1="978.6" y1="427.0" x2="1005.6" y2="427.0"/></g>
<g stroke="#000" stroke-width="5.2" opacity="1"><line x1="1066.6" y1="337.3" x2="1066.6" y2="418.3"/><line x1="1053.1" y1="337.3" x2="1080.1" y2="337.3"/><line x1="1053.1" y1="418.3" x2="1080.1" y2="418.3"/></g>
<g stroke="#000" stroke-width="5.2" opacity="1"><line x1="1141.1" y1="346.0" x2="1141.1" y2="409.5"/><line x1="1127.6" y1="346.0" x2="1154.6" y2="346.0"/><line x1="1127.6" y1="409.5" x2="1154.6" y2="409.5"/></g>
<g stroke="#000" stroke-width="5.2" opacity="1"><line x1="1215.6" y1="341.6" x2="1215.6" y2="409.0"/><line x1="1202.1" y1="341.6" x2="1229.1" y2="341.6"/><line x1="1202.1" y1="409.0" x2="1229.1" y2="409.0"/></g>
<g stroke="#000" stroke-width="5.2" opacity="1"><line x1="1290.1" y1="324.6" x2="1290.1" y2="403.5"/><line x1="1276.6" y1="324.6" x2="1303.6" y2="324.6"/><line x1="1276.6" y1="403.5" x2="1303.6" y2="403.5"/></g>
<g stroke="#000" stroke-width="5.2" opacity="1"><line x1="1364.6" y1="304.5" x2="1364.6" y2="393.0"/><line x1="1351.1" y1="304.5" x2="1378.1" y2="304.5"/><line x1="1351.1" y1="393.0" x2="1378.1" y2="393.0"/></g>
<g stroke="#000" stroke-width="5.2" opacity="1"><line x1="1439.1" y1="279.3" x2="1439.1" y2="387.6"/><line x1="1425.6" y1="279.3" x2="1452.6" y2="279.3"/><line x1="1425.6" y1="387.6" x2="1452.6" y2="387.6"/></g>
<g stroke="#000" stroke-width="5.2" opacity="1"><line x1="1513.6" y1="244.6" x2="1513.6" y2="377.0"/><line x1="1500.1" y1="244.6" x2="1527.1" y2="244.6"/><line x1="1500.1" y1="377.0" x2="1527.1" y2="377.0"/></g>
<g stroke="#000" stroke-width="5.2" opacity="1"><line x1="1588.1" y1="219.5" x2="1588.1" y2="373.0"/><line x1="1574.6" y1="219.5" x2="1601.6" y2="219.5"/><line x1="1574.6" y1="373.0" x2="1601.6" y2="373.0"/></g>
<polygon points="321.6,749.5 332.1,760.0 321.6,770.5 311.1,760.0" fill="#000"/>
<polygon points="396.1,758.5 406.6,769.0 396.1,779.5 385.6,769.0" fill="#000"/>
<polygon points="470.6,722.5 481.1,733.0 470.6,743.5 460.1,733.0" fill="#000"/>
<polygon points="545.1,550.1 555.6,560.6 545.1,571.1 534.6,560.6" fill="#000"/>
<polygon points="619.6,437.5 630.1,448.0 619.6,458.5 609.1,448.0" fill="#000"/>
<polygon points="694.1,438.5 704.6,449.0 694.1,459.5 683.6,449.0" fill="#000"/>
<polygon points="768.6,428.5 779.1,439.0 768.6,449.5 758.1,439.0" fill="#000"/>
<polygon points="843.1,412.5 853.6,423.0 843.1,433.5 832.6,423.0" fill="#000"/>
<polygon points="917.6,405.5 928.1,416.0 917.6,426.5 907.1,416.0" fill="#000"/>
<polygon points="992.1,372.5 1002.6,383.0 992.1,393.5 981.6,383.0" fill="#000"/>
<polygon points="1066.6,368.1 1077.1,378.6 1066.6,389.1 1056.1,378.6" fill="#000"/>
<polygon points="1141.1,366.3 1151.6,376.8 1141.1,387.3 1130.6,376.8" fill="#000"/>
<polygon points="1215.6,364.5 1226.1,375.0 1215.6,385.5 1205.1,375.0" fill="#000"/>
<polygon points="1290.1,354.5 1300.6,365.0 1290.1,375.5 1279.6,365.0" fill="#000"/>
<polygon points="1364.6,338.0 1375.1,348.5 1364.6,359.0 1354.1,348.5" fill="#000"/>
<polygon points="1439.1,322.9 1449.6,333.4 1439.1,343.9 1428.6,333.4" fill="#000"/>
<polygon points="1513.6,300.3 1524.1,310.8 1513.6,321.3 1503.1,310.8" fill="#000"/>
<polygon points="1588.1,285.7 1598.6,296.2 1588.1,306.7 1577.6,296.2" fill="#000"/>
<polygon points="1662.6,286.5 1673.1,297.0 1662.6,307.5 1652.1,297.0" fill="#000"/>
<line x1="273.0" y1="196.2" x2="273.0" y2="832.5" stroke="#000" stroke-width="5.8" />
<line x1="270.1" y1="829.6" x2="1715.4" y2="829.6" stroke="#000" stroke-width="5.8" />
<line x1="246.3" y1="780.2" x2="273.0" y2="780.2" stroke="#000" stroke-width="5.6" />
<text x="239.5" y="798.2" font-family='"Liberation Sans", sans-serif' font-size="46" font-weight="bold" font-style="normal" text-anchor="end" fill="#000" >0</text>
<line x1="246.3" y1="683.3" x2="273.0" y2="683.3" stroke="#000" stroke-width="5.6" />
<text x="239.5" y="701.3" font-family='"Liberation Sans", sans-serif' font-size="46" font-weight="bold" font-style="normal" text-anchor="end" fill="#000" >20</text>
<line x1="246.3" y1="586.5" x2="273.0" y2="586.5" stroke="#000" stroke-width="5.6" />
<text x="239.5" y="604.5" font-family='"Liberation Sans", sans-serif' font-size="46" font-weight="bold" font-style="normal" text-anchor="end" fill="#000" >40</text>
<line x1="246.3" y1="489.6" x2="273.0" y2="489.6" stroke="#000" stroke-width="5.6" />
<text x="239.5" y="507.6" font-family='"Liberation Sans", sans-serif' font-size="46" font-weight="bold" font-style="normal" text-anchor="end" fill="#000" >60</text>
<line x1="246.3" y1="392.8" x2="273.0" y2="392.8" stroke="#000" stroke-width="5.6" />
<text x="239.5" y="410.8" font-family='"Liberation Sans", sans-serif' font-size="46" font-weight="bold" font-style="normal" text-anchor="end" fill="#000" >80</text>
<line x1="246.3" y1="295.9" x2="273.0" y2="295.9" stroke="#000" stroke-width="5.6" />
<text x="239.5" y="313.9" font-family='"Liberation Sans", sans-serif' font-size="46" font-weight="bold" font-style="normal" text-anchor="end" fill="#000" >100</text>
<line x1="246.3" y1="199.0" x2="273.0" y2="199.0" stroke="#000" stroke-width="5.6" />
<text x="239.5" y="217.0" font-family='"Liberation Sans", sans-serif' font-size="46" font-weight="bold" font-style="normal" text-anchor="end" fill="#000" >120</text>
<line x1="321.6" y1="829.6" x2="321.6" y2="855.3" stroke="#000" stroke-width="5.6" />
<text transform="translate(339.0,897.7) rotate(-45)" font-family='"Liberation Sans", sans-serif' font-size="46" font-weight="bold" text-anchor="end" fill="#000">1</text>
<line x1="396.1" y1="829.6" x2="396.1" y2="855.3" stroke="#000" stroke-width="5.6" />
<text transform="translate(413.5,897.7) rotate(-45)" font-family='"Liberation Sans", sans-serif' font-size="46" font-weight="bold" text-anchor="end" fill="#000">2</text>
<line x1="470.6" y1="829.6" x2="470.6" y2="855.3" stroke="#000" stroke-width="5.6" />
<text transform="translate(488.0,897.7) rotate(-45)" font-family='"Liberation Sans", sans-serif' font-size="46" font-weight="bold" text-anchor="end" fill="#000">3</text>
<line x1="545.1" y1="829.6" x2="545.1" y2="855.3" stroke="#000" stroke-width="5.6" />
<text transform="translate(562.5,897.7) rotate(-45)" font-family='"Liberation Sans", sans-serif' font-size="46" font-weight="bold" text-anchor="end" fill="#000">4</text>
<line x1="619.6" y1="829.6" x2="619.6" y2="855.3" stroke="#000" stroke-width="5.6" />
<text transform="translate(637.0,897.7) rotate(-45)" font-family='"Liberation Sans", sans-serif' font-size="46" font-weight="bold" text-anchor="end" fill="#000">5</text>
<line x1="694.1" y1="829.6" x2="694.1" y2="855.3" stroke="#000" stroke-width="5.6" />
<text transform="translate(711.5,897.7) rotate(-45)" font-family='"Liberation Sans", sans-serif' font-size="46" font-weight="bold" text-anchor="end" fill="#000">6</text>
<line x1="768.6" y1="829.6" x2="768.6" y2="855.3" stroke="#000" stroke-width="5.6" />
<text transform="translate(786.0,897.7) rotate(-45)" font-family='"Liberation Sans", sans-serif' font-size="46" font-weight="bold" text-anchor="end" fill="#000">7</text>
<line x1="843.1" y1="829.6" x2="843.1" y2="855.3" stroke="#000" stroke-width="5.6" />
<text transform="translate(860.5,897.7) rotate(-45)" font-family='"Liberation Sans", sans-serif' font-size="46" font-weight="bold" text-anchor="end" fill="#000">8</text>
<line x1="917.6" y1="829.6" x2="917.6" y2="855.3" stroke="#000" stroke-width="5.6" />
<text transform="translate(935.0,897.7) rotate(-45)" font-family='"Liberation Sans", sans-serif' font-size="46" font-weight="bold" text-anchor="end" fill="#000">9</text>
<line x1="992.1" y1="829.6" x2="992.1" y2="855.3" stroke="#000" stroke-width="5.6" />
<text transform="translate(1009.5,897.7) rotate(-45)" font-family='"Liberation Sans", sans-serif' font-size="46" font-weight="bold" text-anchor="end" fill="#000">10</text>
<line x1="1066.6" y1="829.6" x2="1066.6" y2="855.3" stroke="#000" stroke-width="5.6" />
<text transform="translate(1084.0,897.7) rotate(-45)" font-family='"Liberation Sans", sans-serif' font-size="46" font-weight="bold" text-anchor="end" fill="#000">11</text>
<line x1="1141.1" y1="829.6" x2="1141.1" y2="855.3" stroke="#000" stroke-width="5.6" />
<text transform="translate(1158.5,897.7) rotate(-45)" font-family='"Liberation Sans", sans-serif' font-size="46" font-weight="bold" text-anchor="end" fill="#000">12</text>
<line x1="1215.6" y1="829.6" x2="1215.6" y2="855.3" stroke="#000" stroke-width="5.6" />
<text transform="translate(1233.0,897.7) rotate(-45)" font-family='"Liberation Sans", sans-serif' font-size="46" font-weight="bold" text-anchor="end" fill="#000">13</text>
<line x1="1290.1" y1="829.6" x2="1290.1" y2="855.3" stroke="#000" stroke-width="5.6" />
<text transform="translate(1307.5,897.7) rotate(-45)" font-family='"Liberation Sans", sans-serif' font-size="46" font-weight="bold" text-anchor="end" fill="#000">14</text>
<line x1="1364.6" y1="829.6" x2="1364.6" y2="855.3" stroke="#000" stroke-width="5.6" />
<text transform="translate(1382.0,897.7) rotate(-45)" font-family='"Liberation Sans", sans-serif' font-size="46" font-weight="bold" text-anchor="end" fill="#000">15</text>
<line x1="1439.1" y1="829.6" x2="1439.1" y2="855.3" stroke="#000" stroke-width="5.6" />
<text transform="translate(1456.5,897.7) rotate(-45)" font-family='"Liberation Sans", sans-serif' font-size="46" font-weight="bold" text-anchor="end" fill="#000">16</text>
<line x1="1513.6" y1="829.6" x2="1513.6" y2="855.3" stroke="#000" stroke-width="5.6" />
<text transform="translate(1531.0,897.7) rotate(-45)" font-family='"Liberation Sans", sans-serif' font-size="46" font-weight="bold" text-anchor="end" fill="#000">17</text>
<line x1="1588.1" y1="829.6" x2="1588.1" y2="855.3" stroke="#000" stroke-width="5.6" />
<text transform="translate(1605.5,897.7) rotate(-45)" font-family='"Liberation Sans", sans-serif' font-size="46" font-weight="bold" text-anchor="end" fill="#000">18</text>
<line x1="1662.6" y1="829.6" x2="1662.6" y2="855.3" stroke="#000" stroke-width="5.6" />
<text transform="translate(1680.0,897.7) rotate(-45)" font-family='"Liberation Sans", sans-serif' font-size="46" font-weight="bold" text-anchor="end" fill="#000">19</text>
</g>
<g id="chart-b">
<line x1="305" y1="1885.2" x2="1719" y2="1885.2" stroke="#222" stroke-width="4.5" stroke-dasharray="4.5 13.79"/>
<polyline points="335.9,1886.0 410.0,1886.0 484.1,1886.0 558.2,1884.0 632.3,1868.0 706.4,1840.0 780.5,1747.4 854.6,1637.5 928.7,1612.0 1002.8,1441.0 1076.9,1518.0 1151.0,1512.5 1225.1,1568.8 1299.2,1572.4 1373.3,1586.0 1447.4,1577.0 1521.5,1584.0 1595.6,1599.6 1669.7,1545.0" fill="none" stroke="#2f9e38" stroke-width="5.8" stroke-linejoin="round" />
<g stroke="#2f9e38" stroke-width="5.2" opacity="1"><line x1="780.5" y1="1740.0" x2="780.5" y2="1755.0"/><line x1="767.0" y1="1740.0" x2="794.0" y2="1740.0"/><line x1="767.0" y1="1755.0" x2="794.0" y2="1755.0"/></g>
<g stroke="#2f9e38" stroke-width="5.2" opacity="1"><line x1="854.6" y1="1617.0" x2="854.6" y2="1657.0"/><line x1="841.1" y1="1617.0" x2="868.1" y2="1617.0"/><line x1="841.1" y1="1657.0" x2="868.1" y2="1657.0"/></g>
<g stroke="#2f9e38" stroke-width="5.2" opacity="1"><line x1="1002.8" y1="1431.0" x2="1002.8" y2="1451.5"/><line x1="989.3" y1="1431.0" x2="1016.3" y2="1431.0"/><line x1="989.3" y1="1451.5" x2="1016.3" y2="1451.5"/></g>
<g stroke="#2f9e38" stroke-width="5.2" opacity="1"><line x1="1299.2" y1="1564.0" x2="1299.2" y2="1581.0"/><line x1="1285.7" y1="1564.0" x2="1312.7" y2="1564.0"/><line x1="1285.7" y1="1581.0" x2="1312.7" y2="1581.0"/></g>
<g stroke="#2f9e38" stroke-width="5.2" opacity="1"><line x1="1595.6" y1="1586.0" x2="1595.6" y2="1613.0"/><line x1="1582.1" y1="1586.0" x2="1609.1" y2="1586.0"/><line x1="1582.1" y1="1613.0" x2="1609.1" y2="1613.0"/></g>
<circle cx="632.3" cy="1868.0" r="12" fill="#12b012" stroke="none" stroke-width="0" />
<circle cx="706.4" cy="1840.0" r="12" fill="#12b012" stroke="none" stroke-width="0" />
<circle cx="780.5" cy="1747.4" r="12" fill="#12b012" stroke="none" stroke-width="0" />
<circle cx="854.6" cy="1637.5" r="12" fill="#12b012" stroke="none" stroke-width="0" />
<circle cx="928.7" cy="1612.0" r="12" fill="#12b012" stroke="none" stroke-width="0" />
<circle cx="1002.8" cy="1441.0" r="12" fill="#12b012" stroke="none" stroke-width="0" />
<circle cx="1076.9" cy="1518.0" r="12" fill="#12b012" stroke="none" stroke-width="0" />
<circle cx="1151.0" cy="1512.5" r="12" fill="#12b012" stroke="none" stroke-width="0" />
<circle cx="1225.1" cy="1568.8" r="12" fill="#12b012" stroke="none" stroke-width="0" />
<circle cx="1299.2" cy="1572.4" r="12" fill="#12b012" stroke="none" stroke-width="0" />
<circle cx="1373.3" cy="1586.0" r="12" fill="#12b012" stroke="none" stroke-width="0" />
<circle cx="1447.4" cy="1577.0" r="12" fill="#12b012" stroke="none" stroke-width="0" />
<circle cx="1521.5" cy="1584.0" r="12" fill="#12b012" stroke="none" stroke-width="0" />
<circle cx="1595.6" cy="1599.6" r="12" fill="#12b012" stroke="none" stroke-width="0" />
<circle cx="1669.7" cy="1545.0" r="12" fill="#12b012" stroke="none" stroke-width="0" />
<polyline points="335.9,1886.0 410.0,1886.0 484.1,1886.0 558.2,1886.0 632.3,1886.0 706.4,1884.0 780.5,1869.0 854.6,1862.0 928.7,1865.4 1002.8,1863.6 1076.9,1832.0 1151.0,1751.0 1225.1,1672.5 1299.2,1605.6 1373.3,1531.7 1447.4,1531.7 1521.5,1512.0 1595.6,1537.7 1669.7,1545.3" fill="none" stroke="#5e1c7c" stroke-width="6" stroke-linejoin="round" />
<g stroke="#5e1c7c" stroke-width="5.2" opacity="1"><line x1="780.5" y1="1862.0" x2="780.5" y2="1876.0"/><line x1="767.0" y1="1862.0" x2="794.0" y2="1862.0"/><line x1="767.0" y1="1876.0" x2="794.0" y2="1876.0"/></g>
<g stroke="#5e1c7c" stroke-width="5.2" opacity="1"><line x1="854.6" y1="1837.0" x2="854.6" y2="1887.0"/><line x1="841.1" y1="1837.0" x2="868.1" y2="1837.0"/><line x1="841.1" y1="1887.0" x2="868.1" y2="1887.0"/></g>
<g stroke="#5e1c7c" stroke-width="5.2" opacity="1"><line x1="928.7" y1="1855.0" x2="928.7" y2="1876.0"/><line x1="915.2" y1="1855.0" x2="942.2" y2="1855.0"/><line x1="915.2" y1="1876.0" x2="942.2" y2="1876.0"/></g>
<g stroke="#5e1c7c" stroke-width="5.2" opacity="1"><line x1="1002.8" y1="1857.0" x2="1002.8" y2="1870.0"/><line x1="989.3" y1="1857.0" x2="1016.3" y2="1857.0"/><line x1="989.3" y1="1870.0" x2="1016.3" y2="1870.0"/></g>
<g stroke="#5e1c7c" stroke-width="5.2" opacity="1"><line x1="1076.9" y1="1816.0" x2="1076.9" y2="1851.0"/><line x1="1063.4" y1="1816.0" x2="1090.4" y2="1816.0"/><line x1="1063.4" y1="1851.0" x2="1090.4" y2="1851.0"/></g>
<g stroke="#5e1c7c" stroke-width="5.2" opacity="1"><line x1="1151.0" y1="1724.5" x2="1151.0" y2="1777.3"/><line x1="1137.5" y1="1724.5" x2="1164.5" y2="1724.5"/><line x1="1137.5" y1="1777.3" x2="1164.5" y2="1777.3"/></g>
<g stroke="#5e1c7c" stroke-width="5.2" opacity="1"><line x1="1225.1" y1="1665.0" x2="1225.1" y2="1680.0"/><line x1="1211.6" y1="1665.0" x2="1238.6" y2="1665.0"/><line x1="1211.6" y1="1680.0" x2="1238.6" y2="1680.0"/></g>
<g stroke="#5e1c7c" stroke-width="5.2" opacity="1"><line x1="1299.2" y1="1536.2" x2="1299.2" y2="1675.0"/><line x1="1285.7" y1="1536.2" x2="1312.7" y2="1536.2"/><line x1="1285.7" y1="1675.0" x2="1312.7" y2="1675.0"/></g>
<g stroke="#5e1c7c" stroke-width="5.2" opacity="1"><line x1="1373.3" y1="1516.6" x2="1373.3" y2="1546.8"/><line x1="1359.8" y1="1516.6" x2="1386.8" y2="1516.6"/><line x1="1359.8" y1="1546.8" x2="1386.8" y2="1546.8"/></g>
<g stroke="#5e1c7c" stroke-width="5.2" opacity="1"><line x1="1447.4" y1="1516.6" x2="1447.4" y2="1546.8"/><line x1="1433.9" y1="1516.6" x2="1460.9" y2="1516.6"/><line x1="1433.9" y1="1546.8" x2="1460.9" y2="1546.8"/></g>
<g stroke="#5e1c7c" stroke-width="5.2" opacity="1"><line x1="1521.5" y1="1504.0" x2="1521.5" y2="1520.0"/><line x1="1508.0" y1="1504.0" x2="1535.0" y2="1504.0"/><line x1="1508.0" y1="1520.0" x2="1535.0" y2="1520.0"/></g>
<g stroke="#5e1c7c" stroke-width="5.2" opacity="1"><line x1="1669.7" y1="1538.0" x2="1669.7" y2="1553.0"/><line x1="1656.2" y1="1538.0" x2="1683.2" y2="1538.0"/><line x1="1656.2" y1="1553.0" x2="1683.2" y2="1553.0"/></g>
<circle cx="706.4" cy="1884.0" r="12" fill="#7a0a9e" stroke="none" stroke-width="0" />
<circle cx="780.5" cy="1869.0" r="12" fill="#7a0a9e" stroke="none" stroke-width="0" />
<circle cx="854.6" cy="1862.0" r="12" fill="#7a0a9e" stroke="none" stroke-width="0" />
<circle cx="928.7" cy="1865.4" r="12" fill="#7a0a9e" stroke="none" stroke-width="0" />
<circle cx="1002.8" cy="1863.6" r="12" fill="#7a0a9e" stroke="none" stroke-width="0" />
<circle cx="1076.9" cy="1832.0" r="12" fill="#7a0a9e" stroke="none" stroke-width="0" />
<circle cx="1151.0" cy="1751.0" r="12" fill="#7a0a9e" stroke="none" stroke-width="0" />
<circle cx="1225.1" cy="1672.5" r="12" fill="#7a0a9e" stroke="none" stroke-width="0" />
<circle cx="1299.2" cy="1605.6" r="12" fill="#7a0a9e" stroke="none" stroke-width="0" />
<circle cx="1373.3" cy="1531.7" r="12" fill="#7a0a9e" stroke="none" stroke-width="0" />
<circle cx="1447.4" cy="1531.7" r="12" fill="#7a0a9e" stroke="none" stroke-width="0" />
<circle cx="1521.5" cy="1512.0" r="12" fill="#7a0a9e" stroke="none" stroke-width="0" />
<circle cx="1595.6" cy="1537.7" r="12" fill="#7a0a9e" stroke="none" stroke-width="0" />
<circle cx="1669.7" cy="1545.3" r="12" fill="#7a0a9e" stroke="none" stroke-width="0" />
<polyline points="335.9,1887.5 410.0,1887.5 484.1,1887.5 558.2,1887.5 632.3,1887.5 706.4,1887.5 780.5,1887.5 854.6,1887.5 928.7,1887.5 1002.8,1887.5 1076.9,1887.5 1151.0,1887.5 1225.1,1887.5 1299.2,1887.5 1373.3,1887.5 1447.4,1887.5 1521.5,1887.5 1595.6,1887.5 1669.7,1887.5" fill="none" stroke="#d01428" stroke-width="7" stroke-linejoin="round" />
<ellipse cx="335.9" cy="1887.8" rx="17.6" ry="20" fill="#c41f3c"/>
<ellipse cx="410.0" cy="1887.8" rx="17.6" ry="20" fill="#c41f3c"/>
<ellipse cx="484.1" cy="1887.8" rx="17.6" ry="20" fill="#c41f3c"/>
<ellipse cx="558.2" cy="1887.8" rx="17.6" ry="20" fill="#c41f3c"/>
<ellipse cx="632.3" cy="1887.8" rx="17.6" ry="20" fill="#c41f3c"/>
<ellipse cx="706.4" cy="1887.8" rx="17.6" ry="20" fill="#c41f3c"/>
<ellipse cx="780.5" cy="1887.8" rx="17.6" ry="20" fill="#c41f3c"/>
<ellipse cx="854.6" cy="1887.8" rx="17.6" ry="20" fill="#c41f3c"/>
<ellipse cx="928.7" cy="1887.8" rx="17.6" ry="20" fill="#c41f3c"/>
<ellipse cx="1002.8" cy="1887.8" rx="17.6" ry="20" fill="#c41f3c"/>
<ellipse cx="1076.9" cy="1887.8" rx="17.6" ry="20" fill="#c41f3c"/>
<ellipse cx="1151.0" cy="1887.8" rx="17.6" ry="20" fill="#c41f3c"/>
<ellipse cx="1225.1" cy="1887.8" rx="17.6" ry="20" fill="#c41f3c"/>
<ellipse cx="1299.2" cy="1887.8" rx="17.6" ry="20" fill="#c41f3c"/>
<ellipse cx="1373.3" cy="1887.8" rx="17.6" ry="20" fill="#c41f3c"/>
<ellipse cx="1447.4" cy="1887.8" rx="17.6" ry="20" fill="#c41f3c"/>
<ellipse cx="1521.5" cy="1887.8" rx="17.6" ry="20" fill="#c41f3c"/>
<ellipse cx="1595.6" cy="1887.8" rx="17.6" ry="20" fill="#c41f3c"/>
<ellipse cx="1669.7" cy="1887.8" rx="17.6" ry="20" fill="#c41f3c"/>
<polyline points="335.9,1887.5 410.0,1887.5 484.1,1887.5 558.2,1887.5 632.3,1887.5 706.4,1887.5 780.5,1887.5 854.6,1887.5 928.7,1887.5 1002.8,1887.5 1076.9,1887.5 1151.0,1887.5 1225.1,1887.5 1299.2,1887.5 1373.3,1887.5 1447.4,1887.5 1521.5,1887.5 1595.6,1887.5 1669.7,1887.5" fill="none" stroke="#2a2aa8" stroke-width="13.5" stroke-linejoin="round" />
<polyline points="335.9,1884.5 410.0,1884.5 484.1,1884.5 558.2,1884.5 632.3,1884.5 706.4,1884.5 780.5,1884.5 854.6,1884.5 928.7,1884.5 1002.8,1884.5 1076.9,1884.5 1151.0,1884.5 1225.1,1884.5 1299.2,1884.5 1373.3,1884.5 1447.4,1884.5 1521.5,1884.5 1595.6,1884.5 1669.7,1884.5" fill="none" stroke="#8a5a50" stroke-width="3" stroke-linejoin="round" />
<polyline points="335.9,1887.5 410.0,1887.5 484.1,1887.5 558.2,1887.5 632.3,1887.5 706.4,1887.5 780.5,1887.5 854.6,1887.5 928.7,1887.5 1002.8,1887.5 1076.9,1887.5 1151.0,1887.5 1225.1,1887.5 1299.2,1887.5 1373.3,1887.5 1447.4,1887.5 1521.5,1887.5 1595.6,1887.5 1669.7,1887.5" fill="none" stroke="#04043a" stroke-width="8.5" stroke-linejoin="round" />
<polygon points="335.9,1873.5 347.4,1897.0 324.4,1897.0" fill="#dc7c80"/>
<polygon points="335.9,1879.5 342.4,1892.5 329.4,1892.5" fill="#b07a3c"/>
<polygon points="410.0,1873.5 421.5,1897.0 398.5,1897.0" fill="#dc7c80"/>
<polygon points="410.0,1879.5 416.5,1892.5 403.5,1892.5" fill="#b07a3c"/>
<polygon points="484.1,1873.5 495.6,1897.0 472.6,1897.0" fill="#dc7c80"/>
<polygon points="484.1,1879.5 490.6,1892.5 477.6,1892.5" fill="#b07a3c"/>
<polygon points="558.2,1873.5 569.7,1897.0 546.7,1897.0" fill="#dc7c80"/>
<polygon points="558.2,1879.5 564.7,1892.5 551.7,1892.5" fill="#b07a3c"/>
<polygon points="632.3,1873.5 643.8,1897.0 620.8,1897.0" fill="#dc7c80"/>
<polygon points="632.3,1879.5 638.8,1892.5 625.8,1892.5" fill="#b07a3c"/>
<polygon points="706.4,1873.5 717.9,1897.0 694.9,1897.0" fill="#dc7c80"/>
<polygon points="706.4,1879.5 712.9,1892.5 699.9,1892.5" fill="#b07a3c"/>
<polygon points="780.5,1873.5 792.0,1897.0 769.0,1897.0" fill="#dc7c80"/>
<polygon points="780.5,1879.5 787.0,1892.5 774.0,1892.5" fill="#b07a3c"/>
<polygon points="854.6,1873.5 866.1,1897.0 843.1,1897.0" fill="#dc7c80"/>
<polygon points="854.6,1879.5 861.1,1892.5 848.1,1892.5" fill="#b07a3c"/>
<polygon points="928.7,1873.5 940.2,1897.0 917.2,1897.0" fill="#dc7c80"/>
<polygon points="928.7,1879.5 935.2,1892.5 922.2,1892.5" fill="#b07a3c"/>
<polygon points="1002.8,1873.5 1014.3,1897.0 991.3,1897.0" fill="#dc7c80"/>
<polygon points="1002.8,1879.5 1009.3,1892.5 996.3,1892.5" fill="#b07a3c"/>
<polygon points="1076.9,1873.5 1088.4,1897.0 1065.4,1897.0" fill="#dc7c80"/>
<polygon points="1076.9,1879.5 1083.4,1892.5 1070.4,1892.5" fill="#b07a3c"/>
<polygon points="1151.0,1873.5 1162.5,1897.0 1139.5,1897.0" fill="#dc7c80"/>
<polygon points="1151.0,1879.5 1157.5,1892.5 1144.5,1892.5" fill="#b07a3c"/>
<polygon points="1225.1,1873.5 1236.6,1897.0 1213.6,1897.0" fill="#dc7c80"/>
<polygon points="1225.1,1879.5 1231.6,1892.5 1218.6,1892.5" fill="#b07a3c"/>
<polygon points="1299.2,1873.5 1310.7,1897.0 1287.7,1897.0" fill="#dc7c80"/>
<polygon points="1299.2,1879.5 1305.7,1892.5 1292.7,1892.5" fill="#b07a3c"/>
<polygon points="1373.3,1873.5 1384.8,1897.0 1361.8,1897.0" fill="#dc7c80"/>
<polygon points="1373.3,1879.5 1379.8,1892.5 1366.8,1892.5" fill="#b07a3c"/>
<polygon points="1447.4,1873.5 1458.9,1897.0 1435.9,1897.0" fill="#dc7c80"/>
<polygon points="1447.4,1879.5 1453.9,1892.5 1440.9,1892.5" fill="#b07a3c"/>
<polygon points="1521.5,1873.5 1533.0,1897.0 1510.0,1897.0" fill="#dc7c80"/>
<polygon points="1521.5,1879.5 1528.0,1892.5 1515.0,1892.5" fill="#b07a3c"/>
<polygon points="1595.6,1873.5 1607.1,1897.0 1584.1,1897.0" fill="#dc7c80"/>
<polygon points="1595.6,1879.5 1602.1,1892.5 1589.1,1892.5" fill="#b07a3c"/>
<polygon points="1669.7,1873.5 1681.2,1897.0 1658.2,1897.0" fill="#dc7c80"/>
<polygon points="1669.7,1879.5 1676.2,1892.5 1663.2,1892.5" fill="#b07a3c"/>
<polyline points="335.9,1884.0 410.0,1884.0 484.1,1883.0 558.2,1880.0 632.3,1867.0 706.4,1862.5 780.5,1830.0 854.6,1742.0 928.7,1619.0 1002.8,1607.0 1076.9,1521.0 1151.0,1485.0 1225.1,1410.0 1299.2,1464.0 1373.3,1471.0 1447.4,1497.0 1521.5,1488.0 1595.6,1490.0 1669.7,1485.0" fill="none" stroke="#c98a4e" stroke-width="5.6" stroke-linejoin="round" />
<g stroke="#c98a4e" stroke-width="5.2" opacity="1"><line x1="854.6" y1="1725.6" x2="854.6" y2="1761.5"/><line x1="841.1" y1="1725.6" x2="868.1" y2="1725.6"/><line x1="841.1" y1="1761.5" x2="868.1" y2="1761.5"/></g>
<g stroke="#c98a4e" stroke-width="5.2" opacity="1"><line x1="928.7" y1="1607.0" x2="928.7" y2="1634.0"/><line x1="915.2" y1="1607.0" x2="942.2" y2="1607.0"/><line x1="915.2" y1="1634.0" x2="942.2" y2="1634.0"/></g>
<g stroke="#c98a4e" stroke-width="5.2" opacity="1"><line x1="1002.8" y1="1592.0" x2="1002.8" y2="1625.0"/><line x1="989.3" y1="1592.0" x2="1016.3" y2="1592.0"/><line x1="989.3" y1="1625.0" x2="1016.3" y2="1625.0"/></g>
<g stroke="#c98a4e" stroke-width="5.2" opacity="1"><line x1="1076.9" y1="1510.0" x2="1076.9" y2="1533.0"/><line x1="1063.4" y1="1510.0" x2="1090.4" y2="1510.0"/><line x1="1063.4" y1="1533.0" x2="1090.4" y2="1533.0"/></g>
<g stroke="#c98a4e" stroke-width="5.2" opacity="1"><line x1="1151.0" y1="1464.0" x2="1151.0" y2="1506.0"/><line x1="1137.5" y1="1464.0" x2="1164.5" y2="1464.0"/><line x1="1137.5" y1="1506.0" x2="1164.5" y2="1506.0"/></g>
<g stroke="#c98a4e" stroke-width="5.2" opacity="1"><line x1="1299.2" y1="1445.6" x2="1299.2" y2="1486.4"/><line x1="1285.7" y1="1445.6" x2="1312.7" y2="1445.6"/><line x1="1285.7" y1="1486.4" x2="1312.7" y2="1486.4"/></g>
<g stroke="#c98a4e" stroke-width="5.2" opacity="1"><line x1="1521.5" y1="1479.0" x2="1521.5" y2="1497.0"/><line x1="1508.0" y1="1479.0" x2="1535.0" y2="1479.0"/><line x1="1508.0" y1="1497.0" x2="1535.0" y2="1497.0"/></g>
<g stroke="#c98a4e" stroke-width="5.2" opacity="1"><line x1="1595.6" y1="1481.0" x2="1595.6" y2="1500.6"/><line x1="1582.1" y1="1481.0" x2="1609.1" y2="1481.0"/><line x1="1582.1" y1="1500.6" x2="1609.1" y2="1500.6"/></g>
<polygon points="335.9,1872.0 347.9,1884.0 335.9,1896.0 323.9,1884.0" fill="#f56a10"/>
<polygon points="410.0,1872.0 422.0,1884.0 410.0,1896.0 398.0,1884.0" fill="#f56a10"/>
<polygon points="484.1,1871.0 496.1,1883.0 484.1,1895.0 472.1,1883.0" fill="#f56a10"/>
<polygon points="558.2,1868.0 570.2,1880.0 558.2,1892.0 546.2,1880.0" fill="#f56a10"/>
<polygon points="632.3,1855.0 644.3,1867.0 632.3,1879.0 620.3,1867.0" fill="#f56a10"/>
<polygon points="706.4,1850.5 718.4,1862.5 706.4,1874.5 694.4,1862.5" fill="#f56a10"/>
<polygon points="780.5,1818.0 792.5,1830.0 780.5,1842.0 768.5,1830.0" fill="#f56a10"/>
<polygon points="854.6,1730.0 866.6,1742.0 854.6,1754.0 842.6,1742.0" fill="#f56a10"/>
<polygon points="928.7,1607.0 940.7,1619.0 928.7,1631.0 916.7,1619.0" fill="#f56a10"/>
<polygon points="1002.8,1595.0 1014.8,1607.0 1002.8,1619.0 990.8,1607.0" fill="#f56a10"/>
<polygon points="1076.9,1509.0 1088.9,1521.0 1076.9,1533.0 1064.9,1521.0" fill="#f56a10"/>
<polygon points="1151.0,1473.0 1163.0,1485.0 1151.0,1497.0 1139.0,1485.0" fill="#f56a10"/>
<polygon points="1225.1,1398.0 1237.1,1410.0 1225.1,1422.0 1213.1,1410.0" fill="#f56a10"/>
<polygon points="1299.2,1452.0 1311.2,1464.0 1299.2,1476.0 1287.2,1464.0" fill="#f56a10"/>
<polygon points="1373.3,1459.0 1385.3,1471.0 1373.3,1483.0 1361.3,1471.0" fill="#f56a10"/>
<polygon points="1447.4,1485.0 1459.4,1497.0 1447.4,1509.0 1435.4,1497.0" fill="#f56a10"/>
<polygon points="1521.5,1476.0 1533.5,1488.0 1521.5,1500.0 1509.5,1488.0" fill="#f56a10"/>
<polygon points="1595.6,1478.0 1607.6,1490.0 1595.6,1502.0 1583.6,1490.0" fill="#f56a10"/>
<polygon points="1669.7,1473.0 1681.7,1485.0 1669.7,1497.0 1657.7,1485.0" fill="#f56a10"/>
<circle cx="335.9" cy="1884.0" r="11" fill="#f56a10" stroke="none" stroke-width="0" />
<circle cx="410.0" cy="1884.0" r="11" fill="#f56a10" stroke="none" stroke-width="0" />
<circle cx="484.1" cy="1883.0" r="11" fill="#f56a10" stroke="none" stroke-width="0" />
<circle cx="558.2" cy="1880.0" r="11" fill="#f56a10" stroke="none" stroke-width="0" />
<circle cx="632.3" cy="1867.0" r="11" fill="#f56a10" stroke="none" stroke-width="0" />
<line x1="288.4" y1="1286.4" x2="288.4" y2="1928.2" stroke="#000" stroke-width="5.8" />
<line x1="285.5" y1="1925.3" x2="1722.0" y2="1925.3" stroke="#000" stroke-width="5.8" />
<line x1="262.0" y1="1885.2" x2="288.4" y2="1885.2" stroke="#000" stroke-width="5.6" />
<text x="255.0" y="1903.2" font-family='"Liberation Sans", sans-serif' font-size="46" font-weight="bold" font-style="normal" text-anchor="end" fill="#000" >0</text>
<line x1="262.0" y1="1766.0" x2="288.4" y2="1766.0" stroke="#000" stroke-width="5.6" />
<text x="255.0" y="1784.0" font-family='"Liberation Sans", sans-serif' font-size="46" font-weight="bold" font-style="normal" text-anchor="end" fill="#000" >30</text>
<line x1="262.0" y1="1646.8" x2="288.4" y2="1646.8" stroke="#000" stroke-width="5.6" />
<text x="255.0" y="1664.8" font-family='"Liberation Sans", sans-serif' font-size="46" font-weight="bold" font-style="normal" text-anchor="end" fill="#000" >60</text>
<line x1="262.0" y1="1527.6" x2="288.4" y2="1527.6" stroke="#000" stroke-width="5.6" />
<text x="255.0" y="1545.6" font-family='"Liberation Sans", sans-serif' font-size="46" font-weight="bold" font-style="normal" text-anchor="end" fill="#000" >90</text>
<line x1="262.0" y1="1408.4" x2="288.4" y2="1408.4" stroke="#000" stroke-width="5.6" />
<text x="255.0" y="1426.4" font-family='"Liberation Sans", sans-serif' font-size="46" font-weight="bold" font-style="normal" text-anchor="end" fill="#000" >120</text>
<line x1="262.0" y1="1289.2" x2="288.4" y2="1289.2" stroke="#000" stroke-width="5.6" />
<text x="255.0" y="1307.2" font-family='"Liberation Sans", sans-serif' font-size="46" font-weight="bold" font-style="normal" text-anchor="end" fill="#000" >150</text>
<line x1="335.9" y1="1925.3" x2="335.9" y2="1952.2" stroke="#000" stroke-width="5.6" />
<text transform="translate(353.3,1993.4) rotate(-45)" font-family='"Liberation Sans", sans-serif' font-size="46" font-weight="bold" text-anchor="end" fill="#000">1</text>
<line x1="410.0" y1="1925.3" x2="410.0" y2="1952.2" stroke="#000" stroke-width="5.6" />
<text transform="translate(427.4,1993.4) rotate(-45)" font-family='"Liberation Sans", sans-serif' font-size="46" font-weight="bold" text-anchor="end" fill="#000">2</text>
<line x1="484.1" y1="1925.3" x2="484.1" y2="1952.2" stroke="#000" stroke-width="5.6" />
<text transform="translate(501.5,1993.4) rotate(-45)" font-family='"Liberation Sans", sans-serif' font-size="46" font-weight="bold" text-anchor="end" fill="#000">3</text>
<line x1="558.2" y1="1925.3" x2="558.2" y2="1952.2" stroke="#000" stroke-width="5.6" />
<text transform="translate(575.6,1993.4) rotate(-45)" font-family='"Liberation Sans", sans-serif' font-size="46" font-weight="bold" text-anchor="end" fill="#000">4</text>
<line x1="632.3" y1="1925.3" x2="632.3" y2="1952.2" stroke="#000" stroke-width="5.6" />
<text transform="translate(649.7,1993.4) rotate(-45)" font-family='"Liberation Sans", sans-serif' font-size="46" font-weight="bold" text-anchor="end" fill="#000">5</text>
<line x1="706.4" y1="1925.3" x2="706.4" y2="1952.2" stroke="#000" stroke-width="5.6" />
<text transform="translate(723.8,1993.4) rotate(-45)" font-family='"Liberation Sans", sans-serif' font-size="46" font-weight="bold" text-anchor="end" fill="#000">6</text>
<line x1="780.5" y1="1925.3" x2="780.5" y2="1952.2" stroke="#000" stroke-width="5.6" />
<text transform="translate(797.9,1993.4) rotate(-45)" font-family='"Liberation Sans", sans-serif' font-size="46" font-weight="bold" text-anchor="end" fill="#000">7</text>
<line x1="854.6" y1="1925.3" x2="854.6" y2="1952.2" stroke="#000" stroke-width="5.6" />
<text transform="translate(872.0,1993.4) rotate(-45)" font-family='"Liberation Sans", sans-serif' font-size="46" font-weight="bold" text-anchor="end" fill="#000">8</text>
<line x1="928.7" y1="1925.3" x2="928.7" y2="1952.2" stroke="#000" stroke-width="5.6" />
<text transform="translate(946.1,1993.4) rotate(-45)" font-family='"Liberation Sans", sans-serif' font-size="46" font-weight="bold" text-anchor="end" fill="#000">9</text>
<line x1="1002.8" y1="1925.3" x2="1002.8" y2="1952.2" stroke="#000" stroke-width="5.6" />
<text transform="translate(1020.2,1993.4) rotate(-45)" font-family='"Liberation Sans", sans-serif' font-size="46" font-weight="bold" text-anchor="end" fill="#000">10</text>
<line x1="1076.9" y1="1925.3" x2="1076.9" y2="1952.2" stroke="#000" stroke-width="5.6" />
<text transform="translate(1094.3,1993.4) rotate(-45)" font-family='"Liberation Sans", sans-serif' font-size="46" font-weight="bold" text-anchor="end" fill="#000">11</text>
<line x1="1151.0" y1="1925.3" x2="1151.0" y2="1952.2" stroke="#000" stroke-width="5.6" />
<text transform="translate(1168.4,1993.4) rotate(-45)" font-family='"Liberation Sans", sans-serif' font-size="46" font-weight="bold" text-anchor="end" fill="#000">12</text>
<line x1="1225.1" y1="1925.3" x2="1225.1" y2="1952.2" stroke="#000" stroke-width="5.6" />
<text transform="translate(1242.5,1993.4) rotate(-45)" font-family='"Liberation Sans", sans-serif' font-size="46" font-weight="bold" text-anchor="end" fill="#000">13</text>
<line x1="1299.2" y1="1925.3" x2="1299.2" y2="1952.2" stroke="#000" stroke-width="5.6" />
<text transform="translate(1316.6,1993.4) rotate(-45)" font-family='"Liberation Sans", sans-serif' font-size="46" font-weight="bold" text-anchor="end" fill="#000">14</text>
<line x1="1373.3" y1="1925.3" x2="1373.3" y2="1952.2" stroke="#000" stroke-width="5.6" />
<text transform="translate(1390.7,1993.4) rotate(-45)" font-family='"Liberation Sans", sans-serif' font-size="46" font-weight="bold" text-anchor="end" fill="#000">15</text>
<line x1="1447.4" y1="1925.3" x2="1447.4" y2="1952.2" stroke="#000" stroke-width="5.6" />
<text transform="translate(1464.8,1993.4) rotate(-45)" font-family='"Liberation Sans", sans-serif' font-size="46" font-weight="bold" text-anchor="end" fill="#000">16</text>
<line x1="1521.5" y1="1925.3" x2="1521.5" y2="1952.2" stroke="#000" stroke-width="5.6" />
<text transform="translate(1538.9,1993.4) rotate(-45)" font-family='"Liberation Sans", sans-serif' font-size="46" font-weight="bold" text-anchor="end" fill="#000">17</text>
<line x1="1595.6" y1="1925.3" x2="1595.6" y2="1952.2" stroke="#000" stroke-width="5.6" />
<text transform="translate(1613.0,1993.4) rotate(-45)" font-family='"Liberation Sans", sans-serif' font-size="46" font-weight="bold" text-anchor="end" fill="#000">18</text>
<line x1="1669.7" y1="1925.3" x2="1669.7" y2="1952.2" stroke="#000" stroke-width="5.6" />
<text transform="translate(1687.1,1993.4) rotate(-45)" font-family='"Liberation Sans", sans-serif' font-size="46" font-weight="bold" text-anchor="end" fill="#000">19</text>
</g>
<g id="legend-a">
<line x1="1867.0" y1="198.0" x2="1935.0" y2="198.0" stroke="#000" stroke-width="6.3" />
<polygon points="1901.0,187.5 1911.5,198.0 1901.0,208.5 1890.5,198.0" fill="#000"/>
<line x1="1867.0" y1="285.5" x2="1935.0" y2="285.5" stroke="#a37a42" stroke-width="6.3" />
<rect x="1894" y="279.0" width="14" height="13" rx="4" fill="#fbc88e"/>
<line x1="1867.0" y1="367.7" x2="1935.0" y2="367.7" stroke="#e2962f" stroke-width="6.3" />
<polygon points="1901.0,355.7 1914.0,379.1 1888.0,379.1" fill="#f28a1a" stroke="none" stroke-width="0" stroke-linejoin="miter"/>
<line x1="1867.0" y1="452.4" x2="1935.0" y2="452.4" stroke="#e0207f" stroke-width="10.5" />
<circle cx="1901.0" cy="452.4" r="15.5" fill="#fff" stroke="#e0207f" stroke-width="6.5" />
<line x1="1887.0" y1="452.4" x2="1915.0" y2="452.4" stroke="#e0207f" stroke-width="5" />
<line x1="1867.0" y1="537.0" x2="1935.0" y2="537.0" stroke="#8c8c8c" stroke-width="11" />
<circle cx="1901.0" cy="537.0" r="9" fill="#fff" stroke="#8c8c8c" stroke-width="4" />
<line x1="1893.0" y1="537.0" x2="1909.0" y2="537.0" stroke="#b0b0b0" stroke-width="3" />
<line x1="1867.0" y1="623.4" x2="1935.0" y2="623.4" stroke="#7a2a9a" stroke-width="6.3" />
<circle cx="1901.0" cy="623.4" r="18" fill="#6a0dad" stroke="none" stroke-width="0" />
<line x1="1867.0" y1="707.4" x2="1935.0" y2="707.4" stroke="#2f9e38" stroke-width="6.3" />
<circle cx="1901.0" cy="707.4" r="12" fill="#12b012" stroke="none" stroke-width="0" />
<line x1="1867.0" y1="792.0" x2="1935.0" y2="792.0" stroke="#15158c" stroke-width="6.3" />
<circle cx="1901.0" cy="792.0" r="12" fill="#0808f0" stroke="none" stroke-width="0" />
<text x="1974.0" y="217.8" font-family='"Liberation Serif", serif' font-size="50" font-weight="normal" font-style="normal" text-anchor="start" fill="#1a1a1a" textLength="202.6" lengthAdjust="spacingAndGlyphs" stroke="#1a1a1a" stroke-width="0.5"><tspan font-style="italic">E.coli</tspan>_C-</text>
<text x="1974.0" y="305.3" font-family='"Liberation Serif", serif' font-size="50" font-weight="normal" font-style="normal" text-anchor="start" fill="#1a1a1a" textLength="215.8" lengthAdjust="spacingAndGlyphs" stroke="#1a1a1a" stroke-width="0.5"><tspan font-style="italic">E.coli</tspan>_C+</text>
<text x="1974.0" y="387.5" font-family='"Liberation Serif", serif' font-size="50" font-weight="normal" font-style="normal" text-anchor="start" fill="#1a1a1a" textLength="242.2" lengthAdjust="spacingAndGlyphs" stroke="#1a1a1a" stroke-width="0.5">Buf_70uM</text>
<text x="1974.0" y="472.2" font-family='"Liberation Serif", serif' font-size="50" font-weight="normal" font-style="normal" text-anchor="start" fill="#1a1a1a" textLength="371.4" lengthAdjust="spacingAndGlyphs" stroke="#1a1a1a" stroke-width="0.5">Ramosin_70uM</text>
<text x="1974.0" y="556.8" font-family='"Liberation Serif", serif' font-size="50" font-weight="normal" font-style="normal" text-anchor="start" fill="#1a1a1a" textLength="371.4" lengthAdjust="spacingAndGlyphs" stroke="#1a1a1a" stroke-width="0.5">Ramosin_35uM</text>
<text x="1974.0" y="643.2" font-family='"Liberation Serif", serif' font-size="50" font-weight="normal" font-style="normal" text-anchor="start" fill="#1a1a1a" textLength="412.4" lengthAdjust="spacingAndGlyphs" stroke="#1a1a1a" stroke-width="0.5">Ramosin_17.5uM</text>
<text x="1974.0" y="727.2" font-family='"Liberation Serif", serif' font-size="50" font-weight="normal" font-style="normal" text-anchor="start" fill="#1a1a1a" textLength="412.4" lengthAdjust="spacingAndGlyphs" stroke="#1a1a1a" stroke-width="0.5">Ramosin_8.75uM</text>
<text x="1974.0" y="811.8" font-family='"Liberation Serif", serif' font-size="50" font-weight="normal" font-style="normal" text-anchor="start" fill="#1a1a1a" textLength="382.7" lengthAdjust="spacingAndGlyphs" stroke="#1a1a1a" stroke-width="0.5">Ramosin_4.4uM</text>
</g>
<g id="legend-b">
<line x1="1841.5" y1="1342.1" x2="1909.0" y2="1342.1" stroke="#c98a4e" stroke-width="6.3" />
<polygon points="1875.3,1330.1 1887.3,1342.1 1875.3,1354.1 1863.3,1342.1" fill="#f56a10"/>
<line x1="1841.5" y1="1431.8" x2="1909.0" y2="1431.8" stroke="#111" stroke-width="6.3" />
<circle cx="1875.3" cy="1431.8" r="6.5" fill="#9a6b3a" stroke="none" stroke-width="0" />
<line x1="1841.5" y1="1517.3" x2="1909.0" y2="1517.3" stroke="#e0a050" stroke-width="5.8" />
<polygon points="1875.3,1505.3 1886.3,1525.1 1864.3,1525.1" fill="#f2d8d0" stroke="#8c8c8c" stroke-width="4" stroke-linejoin="miter"/>
<line x1="1841.5" y1="1603.9" x2="1909.0" y2="1603.9" stroke="#1212cc" stroke-width="11.5" />
<circle cx="1875.3" cy="1603.9" r="12" fill="#0606f2" stroke="none" stroke-width="0" />
<line x1="1841.5" y1="1688.7" x2="1909.0" y2="1688.7" stroke="#d81828" stroke-width="7.5" />
<circle cx="1875.3" cy="1688.7" r="18" fill="#f00008" stroke="none" stroke-width="0" />
<line x1="1841.5" y1="1773.4" x2="1909.0" y2="1773.4" stroke="#6e2a8c" stroke-width="6.3" />
<circle cx="1875.3" cy="1773.4" r="12" fill="#7a0a9e" stroke="none" stroke-width="0" />
<line x1="1841.5" y1="1860.0" x2="1909.0" y2="1860.0" stroke="#2f9e38" stroke-width="6.3" />
<circle cx="1875.3" cy="1860.0" r="12" fill="#12b012" stroke="none" stroke-width="0" />
<text x="1949.0" y="1361.6" font-family='"Liberation Serif", serif' font-size="50" font-weight="normal" font-style="normal" text-anchor="start" fill="#1a1a1a" textLength="361.4" lengthAdjust="spacingAndGlyphs" stroke="#1a1a1a" stroke-width="0.5"><tspan font-style="italic">P.aeruginosa</tspan>_C-</text>
<text x="1949.0" y="1451.3" font-family='"Liberation Serif", serif' font-size="50" font-weight="normal" font-style="normal" text-anchor="start" fill="#1a1a1a" textLength="375.3" lengthAdjust="spacingAndGlyphs" stroke="#1a1a1a" stroke-width="0.5"><tspan font-style="italic">P.aeruginosa</tspan>_C+</text>
<text x="1949.0" y="1536.8" font-family='"Liberation Serif", serif' font-size="50" font-weight="normal" font-style="normal" text-anchor="start" fill="#1a1a1a" textLength="242.7" lengthAdjust="spacingAndGlyphs" stroke="#1a1a1a" stroke-width="0.5">Buf_70uM</text>
<text x="1949.0" y="1623.4" font-family='"Liberation Serif", serif' font-size="50" font-weight="normal" font-style="normal" text-anchor="start" fill="#1a1a1a" textLength="373.8" lengthAdjust="spacingAndGlyphs" stroke="#1a1a1a" stroke-width="0.5">Ramosin_70uM</text>
<text x="1949.0" y="1708.2" font-family='"Liberation Serif", serif' font-size="50" font-weight="normal" font-style="normal" text-anchor="start" fill="#1a1a1a" textLength="373.8" lengthAdjust="spacingAndGlyphs" stroke="#1a1a1a" stroke-width="0.5">Ramosin_35uM</text>
<text x="1949.0" y="1792.9" font-family='"Liberation Serif", serif' font-size="50" font-weight="normal" font-style="normal" text-anchor="start" fill="#1a1a1a" textLength="416.0" lengthAdjust="spacingAndGlyphs" stroke="#1a1a1a" stroke-width="0.5">Ramosin_17.5uM</text>
<text x="1949.0" y="1879.5" font-family='"Liberation Serif", serif' font-size="50" font-weight="normal" font-style="normal" text-anchor="start" fill="#1a1a1a" textLength="416.0" lengthAdjust="spacingAndGlyphs" stroke="#1a1a1a" stroke-width="0.5">Ramosin_8.75uM</text>
</g>
<g id="titles">
<text x="731.5" y="110.5" font-family='"Liberation Serif", serif' font-size="60" font-weight="normal" font-style="italic" text-anchor="start" fill="#111" textLength="162.5" lengthAdjust="spacingAndGlyphs"  stroke="#111" stroke-width="2.82" stroke-linejoin="round">E. coli</text>
<text x="915.0" y="110.5" font-family='"Liberation Serif", serif' font-size="60" font-weight="normal" font-style="normal" text-anchor="start" fill="#111" textLength="172.3" lengthAdjust="spacingAndGlyphs"  stroke="#111" stroke-width="2.64" stroke-linejoin="round">ATCC</text>
<text x="1105.0" y="110.5" font-family='"Liberation Serif", serif' font-size="60" font-weight="normal" font-style="normal" text-anchor="start" fill="#111" textLength="151.3" lengthAdjust="spacingAndGlyphs"  stroke="#111" stroke-width="2.64" stroke-linejoin="round">25922</text>
<text x="765.0" y="1030.4" font-family='"Liberation Serif", serif' font-size="51" font-weight="normal" font-style="normal" text-anchor="start" fill="#111" textLength="456.7" lengthAdjust="spacingAndGlyphs"  stroke="#111" stroke-width="2.24" stroke-linejoin="round">Hours of treatment</text>
<text x="918.0" y="1121.0" font-family='"Liberation Serif", serif' font-size="60" font-weight="normal" font-style="normal" text-anchor="start" fill="#111" textLength="72.3" lengthAdjust="spacingAndGlyphs"  stroke="#111" stroke-width="2.64" stroke-linejoin="round">(a)</text>
<text x="638.2" y="1201.4" font-family='"Liberation Serif", serif' font-size="60" font-weight="normal" font-style="italic" text-anchor="start" fill="#111" textLength="366.2" lengthAdjust="spacingAndGlyphs"  stroke="#111" stroke-width="2.82" stroke-linejoin="round">P. aeruginosa</text>
<text x="1026.6" y="1201.4" font-family='"Liberation Serif", serif' font-size="60" font-weight="normal" font-style="normal" text-anchor="start" fill="#111" textLength="173.0" lengthAdjust="spacingAndGlyphs"  stroke="#111" stroke-width="2.64" stroke-linejoin="round">ATCC</text>
<text x="1219.7" y="1201.4" font-family='"Liberation Serif", serif' font-size="60" font-weight="normal" font-style="normal" text-anchor="start" fill="#111" textLength="150.9" lengthAdjust="spacingAndGlyphs"  stroke="#111" stroke-width="2.64" stroke-linejoin="round">27853</text>
<text x="773.8" y="2127.3" font-family='"Liberation Serif", serif' font-size="51" font-weight="normal" font-style="normal" text-anchor="start" fill="#111" textLength="462.0" lengthAdjust="spacingAndGlyphs"  stroke="#111" stroke-width="2.24" stroke-linejoin="round">Hours of treatment</text>
<text x="922.0" y="2207.0" font-family='"Liberation Serif", serif' font-size="60" font-weight="normal" font-style="normal" text-anchor="start" fill="#111" textLength="77.6" lengthAdjust="spacingAndGlyphs"  stroke="#111" stroke-width="2.64" stroke-linejoin="round">(b)</text>
<text transform="translate(124.5,647.5) rotate(-90)" font-family='"Liberation Serif", serif' font-size="56" stroke="#111" stroke-width="1.5" stroke-linejoin="round" fill="#111" lengthAdjust="spacingAndGlyphs" textLength="43">%</text>
<text transform="translate(124.5,587.3) rotate(-90)" font-family='"Liberation Serif", serif' font-size="56" stroke="#111" stroke-width="1.5" stroke-linejoin="round" fill="#111" lengthAdjust="spacingAndGlyphs" textLength="209.7">Viability</text>
<text transform="translate(140.6,1743.7) rotate(-90)" font-family='"Liberation Serif", serif' font-size="56" stroke="#111" stroke-width="1.5" stroke-linejoin="round" fill="#111" lengthAdjust="spacingAndGlyphs" textLength="43">%</text>
<text transform="translate(140.6,1681.3) rotate(-90)" font-family='"Liberation Serif", serif' font-size="56" stroke="#111" stroke-width="1.5" stroke-linejoin="round" fill="#111" lengthAdjust="spacingAndGlyphs" textLength="209.7">Viability</text>
</g>
</g>
</svg></body></html>
